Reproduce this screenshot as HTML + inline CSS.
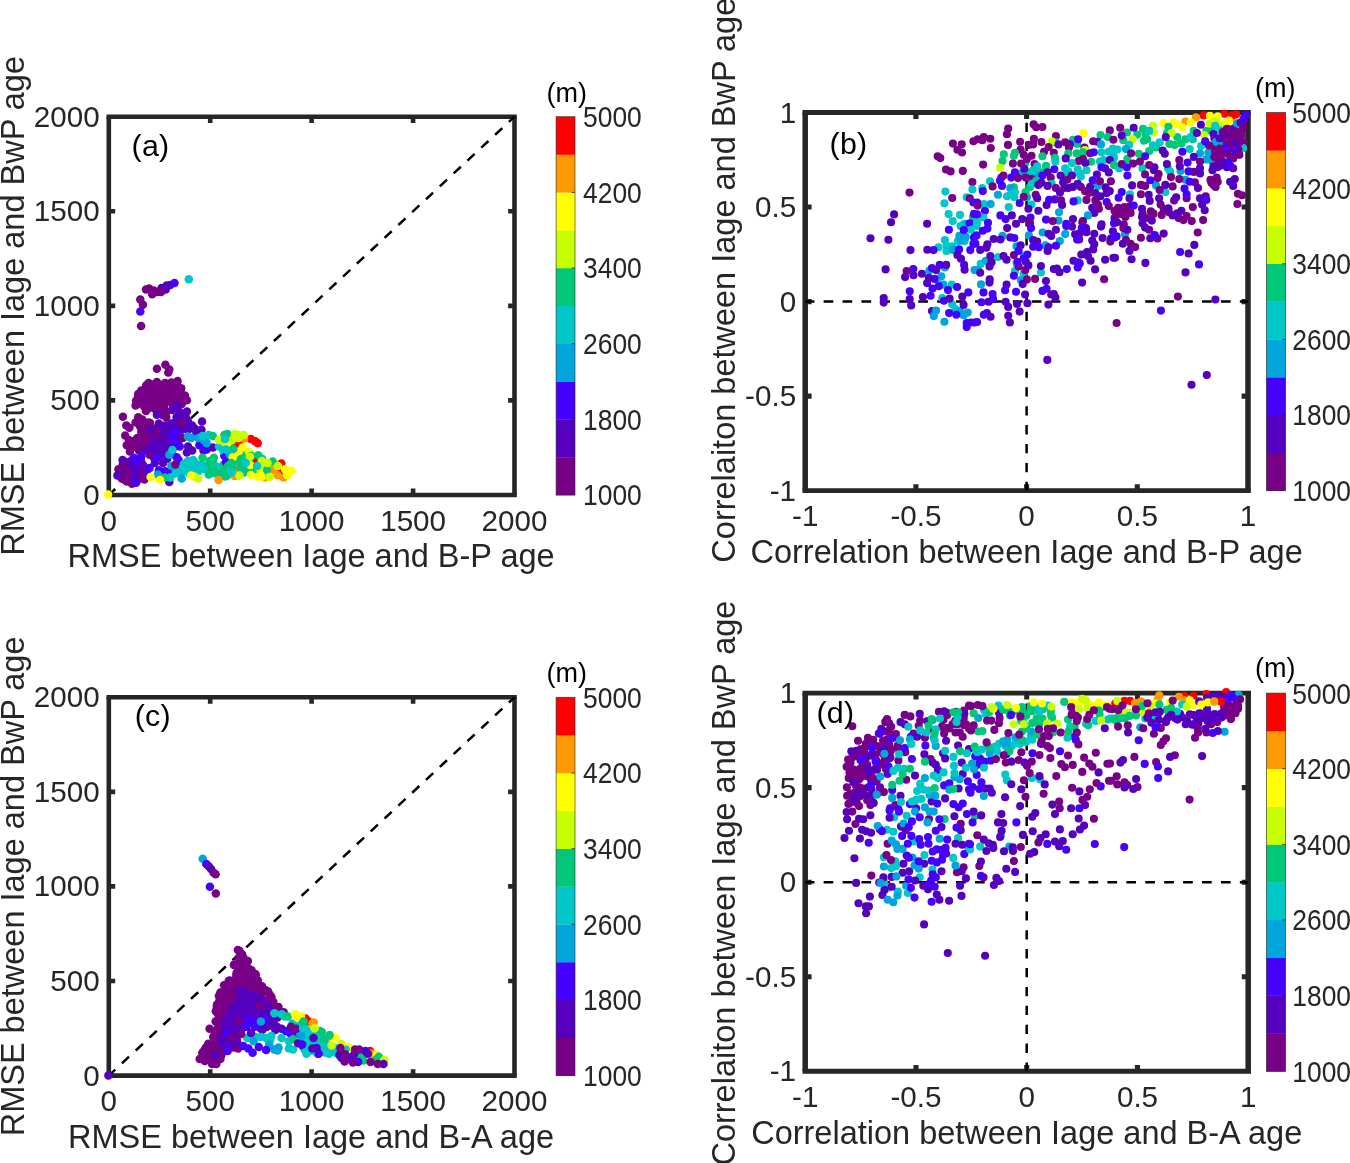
<!DOCTYPE html>
<html lang="en"><head><meta charset="utf-8"><title>Iage RMSE and correlation scatter plots</title>
<style>html,body{margin:0;padding:0;background:#fff}body{width:1350px;height:1163px;overflow:hidden}svg{display:block}text{font-family:"Liberation Sans",Arial,Helvetica,sans-serif;fill:#262626}.t{font-size:29.6px}.l{font-size:32.5px}.g{font-size:30.4px;fill:#000;letter-spacing:0.3px}.m{font-size:27px;fill:#000}.c0{fill:#780087}.c1{fill:#5500BE}.c2{fill:#4600FF}.c3{fill:#00A5DC}.c4{fill:#00C8C8}.c5{fill:#00C878}.c6{fill:#C8FF00}.c7{fill:#FFFF00}.c8{fill:#FF9900}.c9{fill:#FF0000}</style></head><body>
<svg width="1350" height="1163" viewBox="0 0 1350 1163">
<rect width="1350" height="1163" fill="#fff"/>
<g id="panel-a">
<path d="M106.5 116.7H516.8M106.5 495H516.8" stroke="#262626" stroke-width="4.6" fill="none"/>
<path d="M108.8 116.7V495M514.5 116.7V495" stroke="#262626" stroke-width="4.6" fill="none"/>
<path d="M210.2 495v-6.4M210.2 116.7v6.4M108.8 211.3h6.4M514.5 211.3h-6.4M311.6 495v-6.4M311.6 116.7v6.4M108.8 305.9h6.4M514.5 305.9h-6.4M413.1 495v-6.4M413.1 116.7v6.4M108.8 400.4h6.4M514.5 400.4h-6.4" stroke="#262626" stroke-width="4.6" fill="none"/>
<line x1="108.8" y1="495" x2="514.5" y2="116.7" stroke="#000" stroke-width="2.5" stroke-dasharray="9.8 9.1" stroke-dashoffset="1.0"/>
<g class="dots"><circle class="c4" cx="188.8" cy="279.2" r="4.25"/><circle class="c2" cx="174.5" cy="283" r="4.25"/><circle class="c2" cx="170.3" cy="284.9" r="4.25"/><circle class="c2" cx="140.3" cy="311.5" r="4.25"/><circle class="c1" cx="166.7" cy="285.4" r="4.25"/><circle class="c1" cx="161.5" cy="288" r="4.25"/><circle class="c1" cx="165.7" cy="289.6" r="4.25"/><circle class="c0" cx="146" cy="289.6" r="4.25"/><circle class="c0" cx="149.1" cy="288.5" r="4.25"/><circle class="c0" cx="153.7" cy="290.6" r="4.25"/><circle class="c0" cx="152.2" cy="294.2" r="4.25"/><circle class="c0" cx="156.9" cy="292.1" r="4.25"/><circle class="c0" cx="161" cy="292.1" r="4.25"/><circle class="c0" cx="140.3" cy="299.6" r="4.25"/><circle class="c0" cx="142.9" cy="304.8" r="4.25"/><circle class="c0" cx="141.1" cy="326.1" r="4.25"/><circle class="c0" cx="156.9" cy="368.7" r="4.25"/><circle class="c0" cx="165.4" cy="364.7" r="4.25"/><circle class="c0" cx="169.3" cy="369.4" r="4.25"/><circle class="c0" cx="168.3" cy="372.5" r="4.25"/><circle class="c0" cx="146.1" cy="385.5" r="4.25"/><circle class="c0" cx="151.1" cy="384.6" r="4.25"/><circle class="c0" cx="155.6" cy="386.4" r="4.25"/><circle class="c0" cx="161.4" cy="385.1" r="4.25"/><circle class="c0" cx="165.2" cy="385" r="4.25"/><circle class="c0" cx="170.4" cy="383.9" r="4.25"/><circle class="c0" cx="177" cy="384.6" r="4.25"/><circle class="c0" cx="147.1" cy="388.8" r="4.25"/><circle class="c0" cx="154.7" cy="388.5" r="4.25"/><circle class="c0" cx="157.9" cy="390.9" r="4.25"/><circle class="c0" cx="163" cy="390.5" r="4.25"/><circle class="c0" cx="167.9" cy="389.1" r="4.25"/><circle class="c0" cx="174" cy="389" r="4.25"/><circle class="c0" cx="180.7" cy="389.4" r="4.25"/><circle class="c0" cx="141.8" cy="393.4" r="4.25"/><circle class="c0" cx="144.8" cy="393" r="4.25"/><circle class="c0" cx="150.9" cy="392.8" r="4.25"/><circle class="c0" cx="156.4" cy="395" r="4.25"/><circle class="c0" cx="161.5" cy="395" r="4.25"/><circle class="c0" cx="167.2" cy="394.4" r="4.25"/><circle class="c0" cx="171.4" cy="394.6" r="4.25"/><circle class="c0" cx="178" cy="392.9" r="4.25"/><circle class="c0" cx="138" cy="397.1" r="4.25"/><circle class="c0" cx="143" cy="397.1" r="4.25"/><circle class="c0" cx="147.9" cy="397" r="4.25"/><circle class="c0" cx="153.8" cy="397.2" r="4.25"/><circle class="c0" cx="160.3" cy="399.1" r="4.25"/><circle class="c0" cx="163.5" cy="399.9" r="4.25"/><circle class="c0" cx="167.9" cy="397.7" r="4.25"/><circle class="c0" cx="173.2" cy="398.3" r="4.25"/><circle class="c0" cx="178.7" cy="398.2" r="4.25"/><circle class="c0" cx="185.5" cy="399.7" r="4.25"/><circle class="c0" cx="140.8" cy="403.6" r="4.25"/><circle class="c0" cx="145" cy="403.2" r="4.25"/><circle class="c0" cx="150.5" cy="403.9" r="4.25"/><circle class="c0" cx="156.4" cy="403" r="4.25"/><circle class="c0" cx="162.4" cy="403.1" r="4.25"/><circle class="c0" cx="166.2" cy="401.8" r="4.25"/><circle class="c0" cx="172.3" cy="404.3" r="4.25"/><circle class="c0" cx="178.1" cy="401.6" r="4.25"/><circle class="c0" cx="181.7" cy="401.4" r="4.25"/><circle class="c0" cx="144.1" cy="406.5" r="4.25"/><circle class="c0" cx="149.6" cy="407.1" r="4.25"/><circle class="c0" cx="154.9" cy="408.9" r="4.25"/><circle class="c0" cx="159" cy="408.8" r="4.25"/><circle class="c0" cx="163.9" cy="408" r="4.25"/><circle class="c0" cx="161.3" cy="412.5" r="4.25"/><circle class="c0" cx="166.6" cy="411.6" r="4.25"/><circle class="c0" cx="140.5" cy="420.6" r="4.25"/><circle class="c0" cx="140.6" cy="425.6" r="4.25"/><circle class="c0" cx="143.3" cy="424.3" r="4.25"/><circle class="c0" cx="150" cy="423.1" r="4.25"/><circle class="c0" cx="142.5" cy="428.9" r="4.25"/><circle class="c0" cx="147.1" cy="429" r="4.25"/><circle class="c0" cx="152" cy="428.3" r="4.25"/><circle class="c0" cx="145" cy="432.8" r="4.25"/><circle class="c0" cx="149.6" cy="431.8" r="4.25"/><circle class="c0" cx="154.6" cy="431.9" r="4.25"/><circle class="c0" cx="137.1" cy="438.3" r="4.25"/><circle class="c0" cx="142.7" cy="438.8" r="4.25"/><circle class="c0" cx="146.6" cy="437.3" r="4.25"/><circle class="c0" cx="151.2" cy="438.1" r="4.25"/><circle class="c0" cx="132.9" cy="443.5" r="4.25"/><circle class="c0" cx="139.7" cy="440.8" r="4.25"/><circle class="c0" cx="145.7" cy="442.1" r="4.25"/><circle class="c0" cx="149.9" cy="441.8" r="4.25"/><circle class="c0" cx="130.9" cy="448.2" r="4.25"/><circle class="c0" cx="135.4" cy="447" r="4.25"/><circle class="c0" cx="143" cy="446.8" r="4.25"/><circle class="c0" cx="147.3" cy="446.8" r="4.25"/><circle class="c0" cx="138.9" cy="450.2" r="4.25"/><circle class="c1" cx="177.8" cy="417.1" r="4.25"/><circle class="c1" cx="183.1" cy="416.8" r="4.25"/><circle class="c1" cx="185.9" cy="417.8" r="4.25"/><circle class="c1" cx="175.4" cy="422.3" r="4.25"/><circle class="c1" cx="178.7" cy="421.1" r="4.25"/><circle class="c1" cx="184.1" cy="420.8" r="4.25"/><circle class="c1" cx="167.2" cy="425.5" r="4.25"/><circle class="c1" cx="172.3" cy="426" r="4.25"/><circle class="c1" cx="175.9" cy="426.3" r="4.25"/><circle class="c1" cx="182.7" cy="425.4" r="4.25"/><circle class="c1" cx="185.8" cy="425.1" r="4.25"/><circle class="c1" cx="158.3" cy="431.1" r="4.25"/><circle class="c1" cx="162.6" cy="430.8" r="4.25"/><circle class="c1" cx="167.9" cy="429.2" r="4.25"/><circle class="c1" cx="172.6" cy="430.9" r="4.25"/><circle class="c1" cx="180.1" cy="431" r="4.25"/><circle class="c1" cx="184.5" cy="428.8" r="4.25"/><circle class="c1" cx="189.2" cy="429.1" r="4.25"/><circle class="c1" cx="194.9" cy="428.8" r="4.25"/><circle class="c1" cx="161.2" cy="432.9" r="4.25"/><circle class="c1" cx="165.8" cy="434.2" r="4.25"/><circle class="c1" cx="171.9" cy="432.9" r="4.25"/><circle class="c1" cx="176.3" cy="434.2" r="4.25"/><circle class="c1" cx="154.7" cy="439.1" r="4.25"/><circle class="c1" cx="159.2" cy="438.6" r="4.25"/><circle class="c1" cx="162.7" cy="438.7" r="4.25"/><circle class="c1" cx="167.6" cy="438.6" r="4.25"/><circle class="c1" cx="175.1" cy="439.3" r="4.25"/><circle class="c1" cx="154.4" cy="444.8" r="4.25"/><circle class="c1" cx="159.5" cy="444.2" r="4.25"/><circle class="c1" cx="167.4" cy="442.6" r="4.25"/><circle class="c1" cx="171.8" cy="443.6" r="4.25"/><circle class="c1" cx="177.8" cy="442.6" r="4.25"/><circle class="c1" cx="153.7" cy="448.3" r="4.25"/><circle class="c1" cx="158.7" cy="449.2" r="4.25"/><circle class="c1" cx="163.4" cy="447.7" r="4.25"/><circle class="c1" cx="168.3" cy="447.2" r="4.25"/><circle class="c1" cx="172.7" cy="449.1" r="4.25"/><circle class="c1" cx="150.1" cy="452.7" r="4.25"/><circle class="c1" cx="157.3" cy="451.4" r="4.25"/><circle class="c1" cx="161.1" cy="452.1" r="4.25"/><circle class="c1" cx="165.6" cy="452.4" r="4.25"/><circle class="c1" cx="171.8" cy="453.8" r="4.25"/><circle class="c1" cx="153.7" cy="457.5" r="4.25"/><circle class="c1" cx="157.4" cy="457.1" r="4.25"/><circle class="c0" cx="140.8" cy="461.7" r="4.25"/><circle class="c0" cx="127.7" cy="465.6" r="4.25"/><circle class="c0" cx="130.7" cy="465.3" r="4.25"/><circle class="c0" cx="135.2" cy="465.2" r="4.25"/><circle class="c0" cx="142.7" cy="466.4" r="4.25"/><circle class="c0" cx="124.7" cy="471.7" r="4.25"/><circle class="c0" cx="129.3" cy="470.8" r="4.25"/><circle class="c0" cx="135" cy="469.6" r="4.25"/><circle class="c0" cx="140.5" cy="471.5" r="4.25"/><circle class="c0" cx="122.5" cy="475.1" r="4.25"/><circle class="c0" cx="125.7" cy="473.8" r="4.25"/><circle class="c0" cx="132.8" cy="474.1" r="4.25"/><circle class="c0" cx="136.3" cy="474.3" r="4.25"/><circle class="c0" cx="141.6" cy="474.4" r="4.25"/><circle class="c0" cx="128.4" cy="479.2" r="4.25"/><circle class="c0" cx="135.4" cy="478.2" r="4.25"/><circle class="c0" cx="138.8" cy="479.1" r="4.25"/><circle class="c1" cx="130.5" cy="462.7" r="4.25"/><circle class="c1" cx="137.8" cy="460.8" r="4.25"/><circle class="c1" cx="141.2" cy="461.5" r="4.25"/><circle class="c1" cx="124.5" cy="467.2" r="4.25"/><circle class="c1" cx="127.6" cy="467.3" r="4.25"/><circle class="c1" cx="135.5" cy="466.8" r="4.25"/><circle class="c1" cx="138" cy="464.6" r="4.25"/><circle class="c1" cx="143.3" cy="465.6" r="4.25"/><circle class="c1" cx="124.8" cy="471.1" r="4.25"/><circle class="c1" cx="130.5" cy="469.6" r="4.25"/><circle class="c1" cx="135.9" cy="471.5" r="4.25"/><circle class="c1" cx="141.6" cy="471.7" r="4.25"/><circle class="c1" cx="129.6" cy="474.8" r="4.25"/><circle class="c1" cx="135.5" cy="474.8" r="4.25"/><circle class="c1" cx="139.9" cy="473.9" r="4.25"/><circle class="c1" cx="136.5" cy="478" r="4.25"/><circle class="c3" cx="198.5" cy="438.1" r="4.25"/><circle class="c3" cx="204" cy="437.8" r="4.25"/><circle class="c3" cx="205.9" cy="441.2" r="4.25"/><circle class="c2" cx="205.2" cy="447.5" r="4.25"/><circle class="c2" cx="208.3" cy="447.4" r="4.25"/><circle class="c4" cx="190.3" cy="464" r="4.25"/><circle class="c4" cx="196.7" cy="465.1" r="4.25"/><circle class="c4" cx="201.7" cy="464.8" r="4.25"/><circle class="c4" cx="177.4" cy="470.3" r="4.25"/><circle class="c4" cx="183.3" cy="468.9" r="4.25"/><circle class="c4" cx="187.5" cy="468.9" r="4.25"/><circle class="c4" cx="194.5" cy="469.1" r="4.25"/><circle class="c4" cx="197.8" cy="470.3" r="4.25"/><circle class="c4" cx="203.7" cy="468.8" r="4.25"/><circle class="c4" cx="174.6" cy="473.2" r="4.25"/><circle class="c4" cx="181.7" cy="472.2" r="4.25"/><circle class="c5" cx="208.4" cy="465.1" r="4.25"/><circle class="c5" cx="213.5" cy="463.7" r="4.25"/><circle class="c5" cx="231.1" cy="463.7" r="4.25"/><circle class="c5" cx="235.1" cy="462.8" r="4.25"/><circle class="c5" cx="240.7" cy="463.7" r="4.25"/><circle class="c5" cx="208.5" cy="467.8" r="4.25"/><circle class="c5" cx="211.1" cy="469.4" r="4.25"/><circle class="c5" cx="218.5" cy="468.8" r="4.25"/><circle class="c5" cx="221.3" cy="468.4" r="4.25"/><circle class="c5" cx="227.5" cy="467.3" r="4.25"/><circle class="c5" cx="234.3" cy="468.9" r="4.25"/><circle class="c5" cx="239.2" cy="467.2" r="4.25"/><circle class="c5" cx="209.1" cy="472.7" r="4.25"/><circle class="c5" cx="213.8" cy="472.8" r="4.25"/><circle class="c5" cx="219.5" cy="472.1" r="4.25"/><circle class="c5" cx="225.1" cy="471.8" r="4.25"/><circle class="c5" cx="231.3" cy="472.8" r="4.25"/><circle class="c5" cx="235.5" cy="471.5" r="4.25"/><circle class="c5" cx="240.3" cy="471.5" r="4.25"/><circle class="c6" cx="227.6" cy="437.5" r="4.25"/><circle class="c0" cx="148.6" cy="383.1" r="4.25"/><circle class="c0" cx="156.9" cy="382.1" r="4.25"/><circle class="c0" cx="165.1" cy="383.1" r="4.25"/><circle class="c0" cx="171.4" cy="382.6" r="4.25"/><circle class="c0" cx="177.6" cy="381" r="4.25"/><circle class="c0" cx="141.3" cy="390.4" r="4.25"/><circle class="c0" cx="181.2" cy="388.3" r="4.25"/><circle class="c0" cx="154.8" cy="389.3" r="4.25"/><circle class="c0" cx="169.3" cy="389.3" r="4.25"/><circle class="c0" cx="162" cy="392.4" r="4.25"/><circle class="c0" cx="138.2" cy="394" r="4.25"/><circle class="c0" cx="146.5" cy="395.6" r="4.25"/><circle class="c0" cx="154.8" cy="395.6" r="4.25"/><circle class="c0" cx="163.1" cy="396.6" r="4.25"/><circle class="c0" cx="171.4" cy="394.5" r="4.25"/><circle class="c0" cx="184.9" cy="395.6" r="4.25"/><circle class="c0" cx="177.6" cy="397.6" r="4.25"/><circle class="c0" cx="136.1" cy="400.7" r="4.25"/><circle class="c0" cx="144.4" cy="401.8" r="4.25"/><circle class="c0" cx="151.7" cy="402.8" r="4.25"/><circle class="c0" cx="166.2" cy="401.8" r="4.25"/><circle class="c0" cx="173.4" cy="400.7" r="4.25"/><circle class="c0" cx="186.9" cy="400.2" r="4.25"/><circle class="c0" cx="181.7" cy="403.9" r="4.25"/><circle class="c0" cx="135.6" cy="405.4" r="4.25"/><circle class="c0" cx="148.6" cy="408" r="4.25"/><circle class="c0" cx="156.9" cy="407" r="4.25"/><circle class="c0" cx="164.1" cy="408" r="4.25"/><circle class="c0" cx="146" cy="411.1" r="4.25"/><circle class="c0" cx="158.9" cy="413.2" r="4.25"/><circle class="c0" cx="163.1" cy="415.3" r="4.25"/><circle class="c0" cx="166.2" cy="417.3" r="4.25"/><circle class="c0" cx="122.9" cy="416.8" r="4.25"/><circle class="c0" cx="126.3" cy="425.6" r="4.25"/><circle class="c0" cx="129.4" cy="427.7" r="4.25"/><circle class="c0" cx="125.2" cy="435.5" r="4.25"/><circle class="c0" cx="138.2" cy="417.3" r="4.25"/><circle class="c0" cx="142.3" cy="419.4" r="4.25"/><circle class="c0" cx="135.6" cy="422.5" r="4.25"/><circle class="c0" cx="148.6" cy="422.5" r="4.25"/><circle class="c0" cx="140.3" cy="426.7" r="4.25"/><circle class="c0" cx="146.5" cy="428.7" r="4.25"/><circle class="c0" cx="141.3" cy="431.9" r="4.25"/><circle class="c0" cx="150.6" cy="429.8" r="4.25"/><circle class="c0" cx="154.8" cy="428.7" r="4.25"/><circle class="c0" cx="128.9" cy="440.1" r="4.25"/><circle class="c0" cx="133" cy="441.2" r="4.25"/><circle class="c0" cx="126.8" cy="445.3" r="4.25"/><circle class="c0" cx="138.2" cy="438.1" r="4.25"/><circle class="c0" cx="145.4" cy="438.1" r="4.25"/><circle class="c0" cx="146.5" cy="441.2" r="4.25"/><circle class="c0" cx="136.1" cy="446.4" r="4.25"/><circle class="c0" cx="141.3" cy="447.4" r="4.25"/><circle class="c0" cx="129.9" cy="451.6" r="4.25"/><circle class="c0" cx="157.9" cy="437" r="4.25"/><circle class="c0" cx="182.8" cy="438.1" r="4.25"/><circle class="c0" cx="118.5" cy="469.2" r="4.25"/><circle class="c0" cx="122.6" cy="465" r="4.25"/><circle class="c0" cx="125.7" cy="461.9" r="4.25"/><circle class="c0" cx="121.6" cy="478.5" r="4.25"/><circle class="c0" cx="126.8" cy="481.6" r="4.25"/><circle class="c0" cx="132" cy="483.7" r="4.25"/><circle class="c0" cx="140.3" cy="463" r="4.25"/><circle class="c0" cx="141.3" cy="471.3" r="4.25"/><circle class="c0" cx="139.2" cy="477.5" r="4.25"/><circle class="c0" cx="144.4" cy="479.6" r="4.25"/><circle class="c0" cx="127.8" cy="473.3" r="4.25"/><circle class="c0" cx="149.6" cy="454.7" r="4.25"/><circle class="c1" cx="177.1" cy="405.4" r="4.25"/><circle class="c1" cx="172.4" cy="410.1" r="4.25"/><circle class="c1" cx="179.7" cy="412.1" r="4.25"/><circle class="c1" cx="186.9" cy="411.6" r="4.25"/><circle class="c1" cx="156.9" cy="414.7" r="4.25"/><circle class="c1" cx="176.6" cy="417.3" r="4.25"/><circle class="c1" cx="181.7" cy="419.4" r="4.25"/><circle class="c1" cx="188" cy="421.5" r="4.25"/><circle class="c1" cx="202" cy="421.5" r="4.25"/><circle class="c1" cx="192.1" cy="425.6" r="4.25"/><circle class="c1" cx="201.4" cy="429.8" r="4.25"/><circle class="c1" cx="196.3" cy="431.9" r="4.25"/><circle class="c1" cx="158.9" cy="423.6" r="4.25"/><circle class="c1" cx="165.1" cy="425.6" r="4.25"/><circle class="c1" cx="171.4" cy="423.6" r="4.25"/><circle class="c1" cx="177.6" cy="426.7" r="4.25"/><circle class="c1" cx="184.9" cy="428.7" r="4.25"/><circle class="c1" cx="150.6" cy="429.3" r="4.25"/><circle class="c1" cx="163.1" cy="431.9" r="4.25"/><circle class="c1" cx="169.3" cy="432.9" r="4.25"/><circle class="c1" cx="176.6" cy="436" r="4.25"/><circle class="c1" cx="165.1" cy="439.1" r="4.25"/><circle class="c1" cx="171.4" cy="441.2" r="4.25"/><circle class="c1" cx="156.9" cy="442.2" r="4.25"/><circle class="c1" cx="151.7" cy="446.4" r="4.25"/><circle class="c1" cx="161" cy="447.4" r="4.25"/><circle class="c1" cx="167.2" cy="448.4" r="4.25"/><circle class="c1" cx="146.5" cy="450.5" r="4.25"/><circle class="c1" cx="154.8" cy="452.6" r="4.25"/><circle class="c1" cx="162" cy="454.7" r="4.25"/><circle class="c1" cx="188" cy="446.4" r="4.25"/><circle class="c1" cx="192.1" cy="450.5" r="4.25"/><circle class="c1" cx="186.9" cy="452.6" r="4.25"/><circle class="c1" cx="203.5" cy="450.5" r="4.25"/><circle class="c1" cx="212.9" cy="447.4" r="4.25"/><circle class="c1" cx="122.6" cy="459.9" r="4.25"/><circle class="c1" cx="130.9" cy="466.1" r="4.25"/><circle class="c1" cx="135.1" cy="478.5" r="4.25"/><circle class="c1" cx="117.4" cy="475.4" r="4.25"/><circle class="c1" cx="146.5" cy="472.3" r="4.25"/><circle class="c1" cx="132" cy="459.9" r="4.25"/><circle class="c1" cx="137.1" cy="470.2" r="4.25"/><circle class="c1" cx="167.2" cy="458.8" r="4.25"/><circle class="c1" cx="163.1" cy="463" r="4.25"/><circle class="c1" cx="154.8" cy="463" r="4.25"/><circle class="c1" cx="169.3" cy="482.1" r="4.25"/><circle class="c2" cx="175.5" cy="431.9" r="4.25"/><circle class="c2" cx="172.4" cy="435" r="4.25"/><circle class="c2" cx="175.5" cy="442.7" r="4.25"/><circle class="c2" cx="179.7" cy="446.4" r="4.25"/><circle class="c2" cx="199.4" cy="445.3" r="4.25"/><circle class="c2" cx="206.6" cy="449.5" r="4.25"/><circle class="c2" cx="176.6" cy="457.3" r="4.25"/><circle class="c2" cx="178.6" cy="459.9" r="4.25"/><circle class="c2" cx="156.9" cy="457.8" r="4.25"/><circle class="c2" cx="141.3" cy="456.2" r="4.25"/><circle class="c2" cx="134" cy="457.8" r="4.25"/><circle class="c2" cx="138.2" cy="461.9" r="4.25"/><circle class="c2" cx="149.6" cy="468.1" r="4.25"/><circle class="c2" cx="158.9" cy="470.2" r="4.25"/><circle class="c2" cx="165.1" cy="471.3" r="4.25"/><circle class="c2" cx="170.3" cy="471.3" r="4.25"/><circle class="c2" cx="136.1" cy="482.7" r="4.25"/><circle class="c2" cx="224.3" cy="455.7" r="4.25"/><circle class="c2" cx="227.4" cy="461.9" r="4.25"/><circle class="c3" cx="188" cy="436.5" r="4.25"/><circle class="c3" cx="191.1" cy="438.1" r="4.25"/><circle class="c3" cx="169.3" cy="454.7" r="4.25"/><circle class="c3" cx="206.6" cy="443.3" r="4.25"/><circle class="c3" cx="203.5" cy="440.1" r="4.25"/><circle class="c3" cx="198.3" cy="438.1" r="4.25"/><circle class="c3" cx="181.7" cy="478.5" r="4.25"/><circle class="c3" cx="157.9" cy="474.4" r="4.25"/><circle class="c3" cx="194.2" cy="461.9" r="4.25"/><circle class="c3" cx="171.4" cy="466.1" r="4.25"/><circle class="c4" cx="172.4" cy="450" r="4.25"/><circle class="c4" cx="208.7" cy="435" r="4.25"/><circle class="c4" cx="202.5" cy="436" r="4.25"/><circle class="c4" cx="219.1" cy="446.4" r="4.25"/><circle class="c4" cx="223.2" cy="450.5" r="4.25"/><circle class="c4" cx="188" cy="460.9" r="4.25"/><circle class="c4" cx="193.1" cy="459.9" r="4.25"/><circle class="c4" cx="183.8" cy="464" r="4.25"/><circle class="c4" cx="188" cy="468.1" r="4.25"/><circle class="c4" cx="193.1" cy="467.1" r="4.25"/><circle class="c4" cx="198.3" cy="465" r="4.25"/><circle class="c4" cx="203.5" cy="468.1" r="4.25"/><circle class="c4" cx="198.3" cy="471.3" r="4.25"/><circle class="c4" cx="189" cy="473.3" r="4.25"/><circle class="c4" cx="217" cy="467.1" r="4.25"/><circle class="c4" cx="175.5" cy="473.3" r="4.25"/><circle class="c4" cx="170.3" cy="477.5" r="4.25"/><circle class="c4" cx="231.5" cy="470.2" r="4.25"/><circle class="c5" cx="212.9" cy="436" r="4.25"/><circle class="c5" cx="224.3" cy="435" r="4.25"/><circle class="c5" cx="227.4" cy="433.9" r="4.25"/><circle class="c5" cx="233.1" cy="448.4" r="4.25"/><circle class="c5" cx="213.9" cy="457.8" r="4.25"/><circle class="c5" cx="209.7" cy="460.9" r="4.25"/><circle class="c5" cx="202.5" cy="457.8" r="4.25"/><circle class="c5" cx="241.9" cy="458.8" r="4.25"/><circle class="c5" cx="240.9" cy="469.2" r="4.25"/><circle class="c5" cx="242.9" cy="472.3" r="4.25"/><circle class="c5" cx="223.2" cy="465" r="4.25"/><circle class="c5" cx="227.4" cy="470.2" r="4.25"/><circle class="c5" cx="208.7" cy="474.4" r="4.25"/><circle class="c5" cx="214.9" cy="473.3" r="4.25"/><circle class="c5" cx="220.1" cy="474.4" r="4.25"/><circle class="c5" cx="225.3" cy="476.4" r="4.25"/><circle class="c5" cx="212.9" cy="469.2" r="4.25"/><circle class="c5" cx="244" cy="456.7" r="4.25"/><circle class="c5" cx="165.1" cy="477.5" r="4.25"/><circle class="c6" cx="219.1" cy="440.1" r="4.25"/><circle class="c6" cx="233.6" cy="437" r="4.25"/><circle class="c6" cx="238.8" cy="435" r="4.25"/><circle class="c6" cx="224.3" cy="442.2" r="4.25"/><circle class="c6" cx="198.3" cy="478.5" r="4.25"/><circle class="c6" cx="238.8" cy="475.4" r="4.25"/><circle class="c6" cx="194.2" cy="476.4" r="4.25"/><circle class="c7" cx="150.6" cy="477" r="4.25"/><circle class="c7" cx="160" cy="480.1" r="4.25"/><circle class="c7" cx="232.6" cy="457.3" r="4.25"/><circle class="c7" cx="241.9" cy="446.4" r="4.25"/><circle class="c7" cx="240.9" cy="450.5" r="4.25"/><circle class="c7" cx="191.1" cy="475.4" r="4.25"/><circle class="c7" cx="108.1" cy="494.6" r="4.25"/><circle class="c8" cx="218.6" cy="480.1" r="4.25"/><circle class="c8" cx="244" cy="438.1" r="4.25"/><circle class="c8" cx="234.6" cy="475.4" r="4.25"/><circle class="c9" cx="238.8" cy="443.3" r="4.25"/><circle class="c0" cx="175.5" cy="464.5" r="4.25"/><circle class="c0" cx="181.7" cy="422.5" r="4.25"/><circle class="c7" cx="244.2" cy="455.7" r="4.25"/><circle class="c7" cx="248.3" cy="454.6" r="4.25"/><circle class="c7" cx="251.8" cy="456.3" r="4.25"/><circle class="c7" cx="246.3" cy="458.5" r="4.25"/><circle class="c7" cx="251" cy="460.9" r="4.25"/><circle class="c7" cx="247.9" cy="465.1" r="4.25"/><circle class="c7" cx="253.9" cy="463.9" r="4.25"/><circle class="c7" cx="257.9" cy="465.4" r="4.25"/><circle class="c7" cx="251" cy="467.8" r="4.25"/><circle class="c7" cx="256.2" cy="470.3" r="4.25"/><circle class="c7" cx="262" cy="470.2" r="4.25"/><circle class="c7" cx="267" cy="468.3" r="4.25"/><circle class="c7" cx="271.4" cy="468.9" r="4.25"/><circle class="c7" cx="275.1" cy="470.1" r="4.25"/><circle class="c7" cx="259.6" cy="473.8" r="4.25"/><circle class="c7" cx="263.7" cy="472.8" r="4.25"/><circle class="c7" cx="268.6" cy="472.1" r="4.25"/><circle class="c5" cx="230.3" cy="441.7" r="4.25"/><circle class="c5" cx="231.3" cy="445" r="4.25"/><circle class="c5" cx="231.7" cy="450" r="4.25"/><circle class="c5" cx="233.4" cy="453.5" r="4.25"/><circle class="c5" cx="237" cy="455.2" r="4.25"/><circle class="c5" cx="244" cy="454.4" r="4.25"/><circle class="c5" cx="249.4" cy="454.3" r="4.25"/><circle class="c5" cx="230.7" cy="458.3" r="4.25"/><circle class="c5" cx="236.2" cy="460.1" r="4.25"/><circle class="c5" cx="239.6" cy="458.1" r="4.25"/><circle class="c5" cx="246.8" cy="458" r="4.25"/><circle class="c5" cx="249.9" cy="457.7" r="4.25"/><circle class="c5" cx="256.1" cy="457.4" r="4.25"/><circle class="c5" cx="262" cy="458.8" r="4.25"/><circle class="c5" cx="232.3" cy="463.3" r="4.25"/><circle class="c5" cx="237.2" cy="463.4" r="4.25"/><circle class="c5" cx="242.7" cy="461.9" r="4.25"/><circle class="c5" cx="249.3" cy="464.4" r="4.25"/><circle class="c5" cx="253.6" cy="462" r="4.25"/><circle class="c5" cx="257.2" cy="464.8" r="4.25"/><circle class="c5" cx="264.8" cy="463.8" r="4.25"/><circle class="c5" cx="268.1" cy="462.9" r="4.25"/><circle class="c5" cx="230.2" cy="467.5" r="4.25"/><circle class="c5" cx="234.7" cy="468.6" r="4.25"/><circle class="c5" cx="240.9" cy="468.7" r="4.25"/><circle class="c5" cx="244.6" cy="466.7" r="4.25"/><circle class="c5" cx="250.9" cy="467.9" r="4.25"/><circle class="c5" cx="255.8" cy="467.3" r="4.25"/><circle class="c5" cx="260.3" cy="466.3" r="4.25"/><circle class="c5" cx="232.1" cy="472.5" r="4.25"/><circle class="c5" cx="237" cy="471.6" r="4.25"/><circle class="c5" cx="244.2" cy="472.3" r="4.25"/><circle class="c5" cx="253.9" cy="471" r="4.25"/><circle class="c6" cx="237.3" cy="437.5" r="4.25"/><circle class="c2" cx="226.6" cy="454.7" r="4.25"/><circle class="c2" cx="226" cy="461.9" r="4.25"/><circle class="c3" cx="229.7" cy="454.7" r="4.25"/><circle class="c9" cx="250.9" cy="439.1" r="4.25"/><circle class="c9" cx="255.1" cy="441.2" r="4.25"/><circle class="c9" cx="257.7" cy="443.3" r="4.25"/><circle class="c9" cx="238.5" cy="443.3" r="4.25"/><circle class="c9" cx="257.1" cy="461.4" r="4.25"/><circle class="c9" cx="281.3" cy="463.5" r="4.25"/><circle class="c9" cx="280" cy="472.3" r="4.25"/><circle class="c9" cx="282" cy="475.4" r="4.25"/><circle class="c8" cx="244" cy="438.4" r="4.25"/><circle class="c8" cx="272.7" cy="470.2" r="4.25"/><circle class="c8" cx="277.4" cy="474.9" r="4.25"/><circle class="c8" cx="264.9" cy="477.5" r="4.25"/><circle class="c8" cx="283.6" cy="477.5" r="4.25"/><circle class="c8" cx="234.9" cy="475.9" r="4.25"/><circle class="c8" cx="236.4" cy="469.7" r="4.25"/><circle class="c7" cx="242.6" cy="447.4" r="4.25"/><circle class="c7" cx="248.9" cy="451.6" r="4.25"/><circle class="c7" cx="232.8" cy="457.3" r="4.25"/><circle class="c7" cx="250.4" cy="465" r="4.25"/><circle class="c7" cx="250.9" cy="474.9" r="4.25"/><circle class="c7" cx="258.2" cy="476.4" r="4.25"/><circle class="c7" cx="261.3" cy="477" r="4.25"/><circle class="c7" cx="285.1" cy="469.2" r="4.25"/><circle class="c7" cx="291.4" cy="470.7" r="4.25"/><circle class="c7" cx="287.2" cy="474.9" r="4.25"/><circle class="c7" cx="263.4" cy="466.1" r="4.25"/><circle class="c7" cx="227.1" cy="444.3" r="4.25"/><circle class="c7" cx="238.5" cy="452.6" r="4.25"/><circle class="c5" cx="227.1" cy="435" r="4.25"/><circle class="c5" cx="233.3" cy="449" r="4.25"/><circle class="c5" cx="228.1" cy="466.1" r="4.25"/><circle class="c5" cx="232.3" cy="468.7" r="4.25"/><circle class="c5" cx="227.1" cy="475.4" r="4.25"/><circle class="c5" cx="241.6" cy="458.8" r="4.25"/><circle class="c5" cx="240.6" cy="468.1" r="4.25"/><circle class="c5" cx="242.6" cy="472.8" r="4.25"/><circle class="c5" cx="258.2" cy="455.2" r="4.25"/><circle class="c5" cx="272.7" cy="461.4" r="4.25"/><circle class="c5" cx="267" cy="469.7" r="4.25"/><circle class="c5" cx="250.9" cy="455.7" r="4.25"/><circle class="c5" cx="231.2" cy="463" r="4.25"/><circle class="c6" cx="234.9" cy="433.9" r="4.25"/><circle class="c6" cx="243.7" cy="435" r="4.25"/><circle class="c6" cx="232.3" cy="440.1" r="4.25"/><circle class="c6" cx="238.5" cy="438.1" r="4.25"/><circle class="c6" cx="249.9" cy="456.7" r="4.25"/><circle class="c6" cx="267.5" cy="463" r="4.25"/><circle class="c6" cx="277.9" cy="466.1" r="4.25"/><circle class="c6" cx="269.6" cy="477" r="4.25"/><circle class="c6" cx="239.5" cy="475.4" r="4.25"/><circle class="c6" cx="261.8" cy="460.9" r="4.25"/><circle class="c6" cx="259.2" cy="468.1" r="4.25"/><circle class="c4" cx="257.1" cy="466.1" r="4.25"/><circle class="c4" cx="226" cy="449.5" r="4.25"/><circle class="c4" cx="231.7" cy="472.3" r="4.25"/><circle class="c4" cx="245.7" cy="463" r="4.25"/><circle class="c4" cx="225" cy="439.1" r="4.25"/></g>
<text class="t" x="108.8" y="530.6" text-anchor="middle">0</text>
<text class="t" x="99.7" y="505" text-anchor="end">0</text>
<text class="t" x="210.2" y="530.6" text-anchor="middle">500</text>
<text class="t" x="99.7" y="410.4" text-anchor="end">500</text>
<text class="t" x="311.6" y="530.6" text-anchor="middle">1000</text>
<text class="t" x="99.7" y="315.9" text-anchor="end">1000</text>
<text class="t" x="413.1" y="530.6" text-anchor="middle">1500</text>
<text class="t" x="99.7" y="221.3" text-anchor="end">1500</text>
<text class="t" x="514.5" y="530.6" text-anchor="middle">2000</text>
<text class="t" x="99.7" y="126.7" text-anchor="end">2000</text>
<text class="l" x="311.1" y="566.8" text-anchor="middle">RMSE between Iage and B-P age</text>
<text class="l" transform="translate(23.8 305.9) rotate(-90)" text-anchor="middle">RMSE between Iage and BwP age</text>
<text class="g" x="131.5" y="156.1">(a)</text>
<rect class="c0" x="556.1" y="457.2" width="18.9" height="38.1"/>
<rect class="c1" x="556.1" y="419.3" width="18.9" height="38.1"/>
<rect class="c2" x="556.1" y="381.5" width="18.9" height="38.1"/>
<rect class="c3" x="556.1" y="343.7" width="18.9" height="38.1"/>
<rect class="c4" x="556.1" y="305.9" width="18.9" height="38.1"/>
<rect class="c5" x="556.1" y="268" width="18.9" height="38.1"/>
<rect class="c6" x="556.1" y="230.2" width="18.9" height="38.1"/>
<rect class="c7" x="556.1" y="192.4" width="18.9" height="38.1"/>
<rect class="c8" x="556.1" y="154.5" width="18.9" height="38.1"/>
<rect class="c9" x="556.1" y="116.7" width="18.9" height="38.1"/>
<rect x="556.1" y="116.7" width="18.9" height="378.3" fill="none" stroke="#262626" stroke-width="0.8" stroke-opacity="0.75"/>
<text class="t" x="583.1" y="505.4" textLength="58.7" lengthAdjust="spacingAndGlyphs">1000</text>
<text class="t" x="583.1" y="429.7" textLength="58.7" lengthAdjust="spacingAndGlyphs">1800</text>
<path d="M575 419.3h-3.4" stroke="#262626" stroke-width="0.8"/>
<text class="t" x="583.1" y="354.1" textLength="58.7" lengthAdjust="spacingAndGlyphs">2600</text>
<path d="M575 343.7h-3.4" stroke="#262626" stroke-width="0.8"/>
<text class="t" x="583.1" y="278.4" textLength="58.7" lengthAdjust="spacingAndGlyphs">3400</text>
<path d="M575 268h-3.4" stroke="#262626" stroke-width="0.8"/>
<text class="t" x="583.1" y="202.8" textLength="58.7" lengthAdjust="spacingAndGlyphs">4200</text>
<path d="M575 192.4h-3.4" stroke="#262626" stroke-width="0.8"/>
<text class="t" x="583.1" y="127.1" textLength="58.7" lengthAdjust="spacingAndGlyphs">5000</text>
<text class="m" x="566.7" y="101.5" text-anchor="middle">(m)</text>
</g>
<g id="panel-b">
<path d="M802.5 112.5H1250.8M802.5 490.6H1250.8" stroke="#262626" stroke-width="4.9" fill="none"/>
<path d="M805.2 112.5V490.6M1248 112.5V490.6" stroke="#262626" stroke-width="5.5" fill="none"/>
<path d="M915.9 490.6v-6.4M915.9 112.5v6.4M805.2 207h6.4M1248 207h-6.4M1026.6 490.6v-6.4M1026.6 112.5v6.4M805.2 301.6h6.4M1248 301.6h-6.4M1137.3 490.6v-6.4M1137.3 112.5v6.4M805.2 396.1h6.4M1248 396.1h-6.4" stroke="#262626" stroke-width="5.1" fill="none"/>
<line x1="805.2" y1="301.6" x2="1248" y2="301.6" stroke="#000" stroke-width="2.5" stroke-dasharray="9.7 9.22" stroke-dashoffset="0.5"/>
<line x1="1026.6" y1="490.6" x2="1026.6" y2="112.5" stroke="#000" stroke-width="2.5" stroke-dasharray="9.3 9.6" stroke-dashoffset="0.5"/>
<g class="dots"><circle class="c0" cx="952.9" cy="143.6" r="4.05"/><circle class="c0" cx="961.7" cy="144.2" r="4.05"/><circle class="c0" cx="973.4" cy="141.3" r="4.05"/><circle class="c0" cx="957.4" cy="149.8" r="4.05"/><circle class="c0" cx="962" cy="152.5" r="4.05"/><circle class="c0" cx="937.7" cy="156.3" r="4.05"/><circle class="c0" cx="940.3" cy="158.1" r="4.05"/><circle class="c0" cx="946" cy="169.5" r="4.05"/><circle class="c0" cx="950.6" cy="171.4" r="4.05"/><circle class="c0" cx="962.8" cy="170.9" r="4.05"/><circle class="c0" cx="972.4" cy="182.1" r="4.05"/><circle class="c0" cx="909.5" cy="192.6" r="4.05"/><circle class="c4" cx="945.4" cy="191.6" r="4.05"/><circle class="c4" cx="972.4" cy="189.5" r="4.05"/><circle class="c4" cx="966.7" cy="197.3" r="4.05"/><circle class="c4" cx="944.4" cy="203.3" r="4.05"/><circle class="c4" cx="948.6" cy="214.1" r="4.05"/><circle class="c4" cx="960" cy="214.9" r="4.05"/><circle class="c4" cx="952.7" cy="221.1" r="4.05"/><circle class="c4" cx="963.6" cy="224.3" r="4.05"/><circle class="c0" cx="952.2" cy="198" r="4.05"/><circle class="c0" cx="969.8" cy="198.3" r="4.05"/><circle class="c1" cx="894.1" cy="214.4" r="4.05"/><circle class="c1" cx="891" cy="222.2" r="4.05"/><circle class="c1" cx="927.1" cy="223.7" r="4.05"/><circle class="c5" cx="972.9" cy="217" r="4.05"/><circle class="c3" cx="966.2" cy="223.7" r="4.05"/><circle class="c2" cx="973.4" cy="202.5" r="4.05"/><circle class="c2" cx="974" cy="213.9" r="4.05"/><circle class="c2" cx="969.8" cy="223.2" r="4.05"/><circle class="c0" cx="1033.6" cy="124.2" r="4.05"/><circle class="c0" cx="1036.2" cy="127.3" r="4.05"/><circle class="c0" cx="1042.4" cy="127" r="4.05"/><circle class="c0" cx="1008.2" cy="128.6" r="4.05"/><circle class="c0" cx="1109.8" cy="130.4" r="4.05"/><circle class="c7" cx="1083.6" cy="133" r="4.05"/><circle class="c0" cx="1006.9" cy="134.3" r="4.05"/><circle class="c0" cx="1055.9" cy="136.1" r="4.05"/><circle class="c0" cx="977.6" cy="139.2" r="4.05"/><circle class="c0" cx="983.8" cy="137.1" r="4.05"/><circle class="c0" cx="982.3" cy="140.3" r="4.05"/><circle class="c0" cx="990.3" cy="138.7" r="4.05"/><circle class="c0" cx="1033.9" cy="138.7" r="4.05"/><circle class="c0" cx="1020.1" cy="141.8" r="4.05"/><circle class="c0" cx="1041.4" cy="142" r="4.05"/><circle class="c5" cx="1100.5" cy="135.1" r="4.05"/><circle class="c5" cx="1107.7" cy="137.1" r="4.05"/><circle class="c5" cx="1073" cy="139.7" r="4.05"/><circle class="c5" cx="1077.1" cy="143.9" r="4.05"/><circle class="c5" cx="1055.4" cy="142.3" r="4.05"/><circle class="c2" cx="1078.2" cy="139.2" r="4.05"/><circle class="c2" cx="1097.4" cy="141.8" r="4.05"/><circle class="c2" cx="1069.9" cy="144.4" r="4.05"/><circle class="c6" cx="1051.7" cy="141.3" r="4.05"/><circle class="c1" cx="1058.5" cy="144.4" r="4.05"/><circle class="c0" cx="1065.2" cy="142.3" r="4.05"/><circle class="c0" cx="1093.2" cy="141.3" r="4.05"/><circle class="c0" cx="1113.4" cy="139.7" r="4.05"/><circle class="c3" cx="1101" cy="144.4" r="4.05"/><circle class="c0" cx="1008" cy="144.9" r="4.05"/><circle class="c0" cx="990.8" cy="148" r="4.05"/><circle class="c0" cx="1028.9" cy="144.9" r="4.05"/><circle class="c0" cx="1033.1" cy="144.4" r="4.05"/><circle class="c0" cx="1048.6" cy="147" r="4.05"/><circle class="c0" cx="1020.6" cy="149.6" r="4.05"/><circle class="c0" cx="1044" cy="151.7" r="4.05"/><circle class="c0" cx="1053.8" cy="152.7" r="4.05"/><circle class="c0" cx="1068.9" cy="147.5" r="4.05"/><circle class="c0" cx="1084.4" cy="147.5" r="4.05"/><circle class="c6" cx="1084.9" cy="150.1" r="4.05"/><circle class="c5" cx="1003.8" cy="154.3" r="4.05"/><circle class="c5" cx="1013.9" cy="155.8" r="4.05"/><circle class="c5" cx="1014.9" cy="152.7" r="4.05"/><circle class="c5" cx="1068.3" cy="153.2" r="4.05"/><circle class="c5" cx="1076.6" cy="153.2" r="4.05"/><circle class="c5" cx="1082.9" cy="152.2" r="4.05"/><circle class="c0" cx="1090.1" cy="153.2" r="4.05"/><circle class="c4" cx="1101.5" cy="152.2" r="4.05"/><circle class="c4" cx="1108.8" cy="151.7" r="4.05"/><circle class="c4" cx="1112.9" cy="148.6" r="4.05"/><circle class="c4" cx="1113.4" cy="154.8" r="4.05"/><circle class="c2" cx="1093.7" cy="152.2" r="4.05"/><circle class="c5" cx="1002.5" cy="161" r="4.05"/><circle class="c5" cx="1042.4" cy="156.3" r="4.05"/><circle class="c5" cx="1025.3" cy="163.1" r="4.05"/><circle class="c5" cx="1046" cy="165.7" r="4.05"/><circle class="c5" cx="1091.1" cy="161.8" r="4.05"/><circle class="c5" cx="1054.9" cy="157.9" r="4.05"/><circle class="c0" cx="1023.7" cy="154.8" r="4.05"/><circle class="c0" cx="1031.5" cy="155.8" r="4.05"/><circle class="c0" cx="1026.9" cy="158.9" r="4.05"/><circle class="c0" cx="1012.9" cy="163.6" r="4.05"/><circle class="c0" cx="983.1" cy="164.6" r="4.05"/><circle class="c0" cx="1021.1" cy="163.6" r="4.05"/><circle class="c0" cx="1034.6" cy="164.1" r="4.05"/><circle class="c0" cx="1078.7" cy="161" r="4.05"/><circle class="c0" cx="1082.9" cy="158.9" r="4.05"/><circle class="c4" cx="1055.4" cy="161.5" r="4.05"/><circle class="c4" cx="1100" cy="161.5" r="4.05"/><circle class="c4" cx="1103.6" cy="160" r="4.05"/><circle class="c4" cx="1072" cy="163.1" r="4.05"/><circle class="c4" cx="1114" cy="157.9" r="4.05"/><circle class="c1" cx="1065.7" cy="158.4" r="4.05"/><circle class="c1" cx="1109.8" cy="160" r="4.05"/><circle class="c1" cx="1085.4" cy="163.1" r="4.05"/><circle class="c5" cx="1114" cy="165.1" r="4.05"/><circle class="c6" cx="1000.1" cy="167.7" r="4.05"/><circle class="c3" cx="1021.7" cy="173.4" r="4.05"/><circle class="c3" cx="1036.2" cy="174" r="4.05"/><circle class="c5" cx="1042.4" cy="172.4" r="4.05"/><circle class="c4" cx="1037.2" cy="166.2" r="4.05"/><circle class="c4" cx="1033.1" cy="170.3" r="4.05"/><circle class="c4" cx="1030" cy="172.4" r="4.05"/><circle class="c4" cx="1065.2" cy="168.3" r="4.05"/><circle class="c4" cx="1068.3" cy="171.4" r="4.05"/><circle class="c4" cx="1077.7" cy="169.3" r="4.05"/><circle class="c4" cx="1079.7" cy="173.4" r="4.05"/><circle class="c4" cx="1086.5" cy="170.3" r="4.05"/><circle class="c4" cx="1065.7" cy="176.6" r="4.05"/><circle class="c4" cx="1080.8" cy="176.6" r="4.05"/><circle class="c1" cx="1024.3" cy="168.8" r="4.05"/><circle class="c1" cx="1105.1" cy="168.3" r="4.05"/><circle class="c1" cx="1108.8" cy="172.4" r="4.05"/><circle class="c1" cx="1060.6" cy="175.5" r="4.05"/><circle class="c1" cx="1072" cy="175.5" r="4.05"/><circle class="c1" cx="1096.9" cy="174.5" r="4.05"/><circle class="c1" cx="1047.6" cy="172.4" r="4.05"/><circle class="c2" cx="1014.9" cy="172.4" r="4.05"/><circle class="c2" cx="1054.3" cy="169.3" r="4.05"/><circle class="c2" cx="1011.3" cy="177.6" r="4.05"/><circle class="c2" cx="1001.4" cy="177.6" r="4.05"/><circle class="c2" cx="1042.4" cy="175.5" r="4.05"/><circle class="c2" cx="1101.5" cy="167.2" r="4.05"/><circle class="c0" cx="1003.5" cy="175.5" r="4.05"/><circle class="c0" cx="1018" cy="178.1" r="4.05"/><circle class="c0" cx="1025.8" cy="177.6" r="4.05"/><circle class="c0" cx="1050.7" cy="177.6" r="4.05"/><circle class="c0" cx="1031.5" cy="179.1" r="4.05"/><circle class="c0" cx="1067.3" cy="179.7" r="4.05"/><circle class="c5" cx="1030" cy="186.9" r="4.05"/><circle class="c5" cx="1013.9" cy="187.4" r="4.05"/><circle class="c5" cx="1036.2" cy="180.7" r="4.05"/><circle class="c4" cx="990" cy="181.2" r="4.05"/><circle class="c4" cx="1032" cy="183.8" r="4.05"/><circle class="c4" cx="982.3" cy="188" r="4.05"/><circle class="c4" cx="1051.7" cy="183.8" r="4.05"/><circle class="c3" cx="1010.3" cy="188" r="4.05"/><circle class="c3" cx="1097.9" cy="185.9" r="4.05"/><circle class="c2" cx="999.9" cy="180.7" r="4.05"/><circle class="c2" cx="1002" cy="185.9" r="4.05"/><circle class="c2" cx="982.8" cy="191.1" r="4.05"/><circle class="c2" cx="1092.7" cy="180.2" r="4.05"/><circle class="c0" cx="992.6" cy="186.4" r="4.05"/><circle class="c0" cx="1100" cy="181.2" r="4.05"/><circle class="c0" cx="1110.9" cy="181.2" r="4.05"/><circle class="c0" cx="1055.9" cy="188" r="4.05"/><circle class="c0" cx="1080.8" cy="186.9" r="4.05"/><circle class="c0" cx="1084.9" cy="191.1" r="4.05"/><circle class="c0" cx="1064.2" cy="188" r="4.05"/><circle class="c1" cx="1041.4" cy="182.8" r="4.05"/><circle class="c1" cx="1047.6" cy="185.9" r="4.05"/><circle class="c1" cx="1038.3" cy="184.9" r="4.05"/><circle class="c1" cx="1068.3" cy="188" r="4.05"/><circle class="c1" cx="1073" cy="186.9" r="4.05"/><circle class="c1" cx="1077.7" cy="183.8" r="4.05"/><circle class="c1" cx="1090.1" cy="186.9" r="4.05"/><circle class="c1" cx="1105.7" cy="187.4" r="4.05"/><circle class="c1" cx="1063.1" cy="182.3" r="4.05"/><circle class="c1" cx="1109.8" cy="191.1" r="4.05"/><circle class="c1" cx="1095.3" cy="193.1" r="4.05"/><circle class="c3" cx="998" cy="194.7" r="4.05"/><circle class="c3" cx="1026.9" cy="197.3" r="4.05"/><circle class="c5" cx="1025.6" cy="192.1" r="4.05"/><circle class="c4" cx="1007.1" cy="196.3" r="4.05"/><circle class="c4" cx="1014.9" cy="192.1" r="4.05"/><circle class="c4" cx="1014.4" cy="197.3" r="4.05"/><circle class="c4" cx="1010.8" cy="194.2" r="4.05"/><circle class="c4" cx="1077.7" cy="200.4" r="4.05"/><circle class="c0" cx="1023.7" cy="196.8" r="4.05"/><circle class="c0" cx="1035.7" cy="194.7" r="4.05"/><circle class="c0" cx="1061.1" cy="200.4" r="4.05"/><circle class="c0" cx="1086.5" cy="199.9" r="4.05"/><circle class="c0" cx="1089.1" cy="193.1" r="4.05"/><circle class="c0" cx="1095.3" cy="200.4" r="4.05"/><circle class="c1" cx="1037.2" cy="198.3" r="4.05"/><circle class="c1" cx="1060" cy="192.6" r="4.05"/><circle class="c1" cx="1054.9" cy="199.4" r="4.05"/><circle class="c1" cx="1100.5" cy="196.3" r="4.05"/><circle class="c1" cx="1106.7" cy="193.1" r="4.05"/><circle class="c2" cx="1049.1" cy="199.9" r="4.05"/><circle class="c2" cx="1073.5" cy="201.4" r="4.05"/><circle class="c2" cx="1106.7" cy="202" r="4.05"/><circle class="c4" cx="983.8" cy="204" r="4.05"/><circle class="c4" cx="1031.5" cy="204.6" r="4.05"/><circle class="c4" cx="1008.7" cy="207.1" r="4.05"/><circle class="c3" cx="990.6" cy="204" r="4.05"/><circle class="c2" cx="1019.6" cy="203" r="4.05"/><circle class="c2" cx="984.9" cy="210.8" r="4.05"/><circle class="c2" cx="977.1" cy="202.5" r="4.05"/><circle class="c0" cx="977.6" cy="205.6" r="4.05"/><circle class="c0" cx="1097.9" cy="204.6" r="4.05"/><circle class="c0" cx="1108.8" cy="206.1" r="4.05"/><circle class="c0" cx="1098.9" cy="208.7" r="4.05"/><circle class="c0" cx="1114.5" cy="210.8" r="4.05"/><circle class="c1" cx="1046.6" cy="205.1" r="4.05"/><circle class="c1" cx="1062.1" cy="205.1" r="4.05"/><circle class="c1" cx="1028.4" cy="208.7" r="4.05"/><circle class="c1" cx="1038.3" cy="210.8" r="4.05"/><circle class="c1" cx="1092.2" cy="207.7" r="4.05"/><circle class="c1" cx="1094.3" cy="212.9" r="4.05"/><circle class="c4" cx="983.3" cy="217.5" r="4.05"/><circle class="c4" cx="977.1" cy="222.2" r="4.05"/><circle class="c3" cx="1059" cy="212.3" r="4.05"/><circle class="c3" cx="1088" cy="215.4" r="4.05"/><circle class="c3" cx="1058.5" cy="220.6" r="4.05"/><circle class="c2" cx="1000.4" cy="215.4" r="4.05"/><circle class="c2" cx="1005.6" cy="219.1" r="4.05"/><circle class="c2" cx="1030.5" cy="217.5" r="4.05"/><circle class="c2" cx="977.1" cy="214.4" r="4.05"/><circle class="c2" cx="1046" cy="219.6" r="4.05"/><circle class="c1" cx="1011.8" cy="215.4" r="4.05"/><circle class="c1" cx="1022.2" cy="219.1" r="4.05"/><circle class="c1" cx="1073" cy="219.1" r="4.05"/><circle class="c1" cx="1016" cy="223.7" r="4.05"/><circle class="c1" cx="1082.9" cy="221.1" r="4.05"/><circle class="c1" cx="1101.5" cy="224.3" r="4.05"/><circle class="c1" cx="1114.5" cy="218" r="4.05"/><circle class="c0" cx="1052.8" cy="221.1" r="4.05"/><circle class="c0" cx="1082.3" cy="222.2" r="4.05"/><circle class="c0" cx="1030" cy="223.2" r="4.05"/><circle class="c2" cx="988" cy="222.7" r="4.05"/><circle class="c2" cx="1066.3" cy="223.7" r="4.05"/><circle class="c2" cx="1114" cy="223.2" r="4.05"/><circle class="c0" cx="1227.1" cy="128.5" r="4.05"/><circle class="c0" cx="1234.1" cy="128.2" r="4.05"/><circle class="c0" cx="1243.1" cy="125.1" r="4.05"/><circle class="c0" cx="1223.8" cy="132.4" r="4.05"/><circle class="c0" cx="1229.8" cy="133.4" r="4.05"/><circle class="c0" cx="1238.6" cy="132.6" r="4.05"/><circle class="c0" cx="1224.8" cy="140.3" r="4.05"/><circle class="c0" cx="1231.2" cy="140.6" r="4.05"/><circle class="c0" cx="1243.3" cy="142.1" r="4.05"/><circle class="c0" cx="1214.7" cy="146.1" r="4.05"/><circle class="c0" cx="1221.5" cy="145.8" r="4.05"/><circle class="c0" cx="1231.3" cy="148.3" r="4.05"/><circle class="c0" cx="1236.7" cy="146" r="4.05"/><circle class="c0" cx="1242.9" cy="148" r="4.05"/><circle class="c0" cx="1210.4" cy="152.3" r="4.05"/><circle class="c0" cx="1215.9" cy="154.1" r="4.05"/><circle class="c0" cx="1226.9" cy="151.9" r="4.05"/><circle class="c0" cx="1234.9" cy="154.7" r="4.05"/><circle class="c0" cx="1239" cy="154.4" r="4.05"/><circle class="c0" cx="1222.3" cy="160.8" r="4.05"/><circle class="c1" cx="1214.4" cy="138.2" r="4.05"/><circle class="c1" cx="1223.1" cy="137.1" r="4.05"/><circle class="c1" cx="1232.2" cy="139.9" r="4.05"/><circle class="c1" cx="1220.8" cy="149.5" r="4.05"/><circle class="c1" cx="1228.9" cy="148.4" r="4.05"/><circle class="c1" cx="1211.3" cy="156.9" r="4.05"/><circle class="c1" cx="1220.9" cy="153.1" r="4.05"/><circle class="c1" cx="1230.5" cy="158.1" r="4.05"/><circle class="c1" cx="1220.5" cy="165.5" r="4.05"/><circle class="c1" cx="1227.2" cy="164" r="4.05"/><circle class="c0" cx="1130.3" cy="206.1" r="4.05"/><circle class="c0" cx="1123.4" cy="212.9" r="4.05"/><circle class="c0" cx="1129.9" cy="212.2" r="4.05"/><circle class="c0" cx="1142.6" cy="213.7" r="4.05"/><circle class="c0" cx="1153.2" cy="213.5" r="4.05"/><circle class="c0" cx="1169" cy="212.3" r="4.05"/><circle class="c0" cx="1178.6" cy="218.1" r="4.05"/><circle class="c8" cx="1195.9" cy="117.4" r="4.05"/><circle class="c8" cx="1185.5" cy="121.6" r="4.05"/><circle class="c8" cx="1233.2" cy="118" r="4.05"/><circle class="c9" cx="1203.7" cy="115.4" r="4.05"/><circle class="c9" cx="1224.4" cy="113.8" r="4.05"/><circle class="c9" cx="1236.3" cy="114.3" r="4.05"/><circle class="c9" cx="1232.2" cy="115.4" r="4.05"/><circle class="c7" cx="1209.9" cy="115.9" r="4.05"/><circle class="c7" cx="1217.7" cy="116.4" r="4.05"/><circle class="c7" cx="1163.2" cy="123.1" r="4.05"/><circle class="c7" cx="1173.6" cy="122.6" r="4.05"/><circle class="c7" cx="1177.2" cy="124.2" r="4.05"/><circle class="c7" cx="1182.4" cy="127.3" r="4.05"/><circle class="c7" cx="1190.7" cy="122.6" r="4.05"/><circle class="c7" cx="1229.1" cy="120.6" r="4.05"/><circle class="c7" cx="1226" cy="122.6" r="4.05"/><circle class="c5" cx="1143" cy="128.9" r="4.05"/><circle class="c5" cx="1168.4" cy="126.8" r="4.05"/><circle class="c5" cx="1126.9" cy="132.5" r="4.05"/><circle class="c5" cx="1137.3" cy="134.6" r="4.05"/><circle class="c5" cx="1145.6" cy="134" r="4.05"/><circle class="c5" cx="1193.8" cy="130.9" r="4.05"/><circle class="c5" cx="1206.3" cy="130.9" r="4.05"/><circle class="c5" cx="1166.9" cy="133" r="4.05"/><circle class="c5" cx="1177.2" cy="137.1" r="4.05"/><circle class="c5" cx="1185.5" cy="139.2" r="4.05"/><circle class="c5" cx="1192.8" cy="139.2" r="4.05"/><circle class="c5" cx="1144" cy="140.8" r="4.05"/><circle class="c5" cx="1123.3" cy="140.3" r="4.05"/><circle class="c5" cx="1147.1" cy="139.2" r="4.05"/><circle class="c5" cx="1169.4" cy="143.9" r="4.05"/><circle class="c5" cx="1174.6" cy="144.9" r="4.05"/><circle class="c5" cx="1181.4" cy="143.4" r="4.05"/><circle class="c5" cx="1156" cy="147.5" r="4.05"/><circle class="c5" cx="1138.9" cy="153.7" r="4.05"/><circle class="c5" cx="1149.2" cy="151.1" r="4.05"/><circle class="c5" cx="1127.4" cy="158.9" r="4.05"/><circle class="c5" cx="1211.4" cy="129.9" r="4.05"/><circle class="c6" cx="1214.6" cy="121.1" r="4.05"/><circle class="c6" cx="1209.4" cy="123.7" r="4.05"/><circle class="c6" cx="1152.9" cy="125.7" r="4.05"/><circle class="c6" cx="1153.9" cy="132.5" r="4.05"/><circle class="c6" cx="1171.5" cy="133" r="4.05"/><circle class="c6" cx="1132.6" cy="139.2" r="4.05"/><circle class="c6" cx="1218.7" cy="124.2" r="4.05"/><circle class="c6" cx="1204.2" cy="135.1" r="4.05"/><circle class="c4" cx="1215.1" cy="125.7" r="4.05"/><circle class="c4" cx="1220.3" cy="130.4" r="4.05"/><circle class="c4" cx="1149.2" cy="130.9" r="4.05"/><circle class="c4" cx="1159.6" cy="142.3" r="4.05"/><circle class="c4" cx="1152.9" cy="145.4" r="4.05"/><circle class="c4" cx="1129" cy="144.9" r="4.05"/><circle class="c4" cx="1117.6" cy="149.6" r="4.05"/><circle class="c4" cx="1201.1" cy="146" r="4.05"/><circle class="c4" cx="1189.7" cy="149.1" r="4.05"/><circle class="c4" cx="1243.1" cy="148" r="4.05"/><circle class="c4" cx="1190.7" cy="137.1" r="4.05"/><circle class="c3" cx="1236.9" cy="123.7" r="4.05"/><circle class="c3" cx="1125.9" cy="149.1" r="4.05"/><circle class="c3" cx="1216.1" cy="141.8" r="4.05"/><circle class="c3" cx="1200" cy="153.2" r="4.05"/><circle class="c3" cx="1208.3" cy="152.7" r="4.05"/><circle class="c3" cx="1206.3" cy="159.4" r="4.05"/><circle class="c3" cx="1212" cy="161" r="4.05"/><circle class="c3" cx="1218.7" cy="143.4" r="4.05"/><circle class="c1" cx="1200.9" cy="124.7" r="4.05"/><circle class="c1" cx="1240.5" cy="122.6" r="4.05"/><circle class="c1" cx="1133.7" cy="127.8" r="4.05"/><circle class="c1" cx="1121.7" cy="135.6" r="4.05"/><circle class="c1" cx="1232.2" cy="129.9" r="4.05"/><circle class="c1" cx="1165.8" cy="137.1" r="4.05"/><circle class="c1" cx="1213.5" cy="134" r="4.05"/><circle class="c1" cx="1196.9" cy="133" r="4.05"/><circle class="c1" cx="1223.9" cy="136.1" r="4.05"/><circle class="c1" cx="1162.7" cy="150.6" r="4.05"/><circle class="c1" cx="1164.8" cy="153.7" r="4.05"/><circle class="c1" cx="1231.1" cy="136.1" r="4.05"/><circle class="c1" cx="1229.1" cy="143.4" r="4.05"/><circle class="c0" cx="1120.2" cy="127.8" r="4.05"/><circle class="c0" cx="1227" cy="128.9" r="4.05"/><circle class="c0" cx="1236.3" cy="132" r="4.05"/><circle class="c0" cx="1242.6" cy="128.9" r="4.05"/><circle class="c0" cx="1227.5" cy="140.3" r="4.05"/><circle class="c0" cx="1237.9" cy="138.2" r="4.05"/><circle class="c0" cx="1208.9" cy="145.4" r="4.05"/><circle class="c0" cx="1219.7" cy="148.6" r="4.05"/><circle class="c0" cx="1215.1" cy="151.7" r="4.05"/><circle class="c0" cx="1227.5" cy="153.7" r="4.05"/><circle class="c0" cx="1238.4" cy="149.6" r="4.05"/><circle class="c0" cx="1233.2" cy="158.4" r="4.05"/><circle class="c0" cx="1131.1" cy="153.2" r="4.05"/><circle class="c2" cx="1246.2" cy="114.9" r="4.05"/><circle class="c2" cx="1243.6" cy="118.5" r="4.05"/><circle class="c2" cx="1205.2" cy="141.3" r="4.05"/><circle class="c2" cx="1182.4" cy="151.7" r="4.05"/><circle class="c2" cx="1145.1" cy="156.3" r="4.05"/><circle class="c2" cx="1227" cy="147.5" r="4.05"/><circle class="c2" cx="1235.3" cy="150.6" r="4.05"/><circle class="c4" cx="1119.1" cy="168.3" r="4.05"/><circle class="c4" cx="1142.5" cy="168.3" r="4.05"/><circle class="c4" cx="1167.9" cy="168.3" r="4.05"/><circle class="c4" cx="1170" cy="171.4" r="4.05"/><circle class="c4" cx="1165.3" cy="192.1" r="4.05"/><circle class="c4" cx="1130" cy="194.2" r="4.05"/><circle class="c3" cx="1180.5" cy="170.9" r="4.05"/><circle class="c3" cx="1156" cy="185.4" r="4.05"/><circle class="c3" cx="1185.5" cy="179.7" r="4.05"/><circle class="c0" cx="1179.3" cy="160" r="4.05"/><circle class="c0" cx="1121.7" cy="164.1" r="4.05"/><circle class="c0" cx="1133.1" cy="163.6" r="4.05"/><circle class="c0" cx="1149.2" cy="165.1" r="4.05"/><circle class="c0" cx="1139.9" cy="161.5" r="4.05"/><circle class="c0" cx="1200" cy="161.5" r="4.05"/><circle class="c0" cx="1218.7" cy="161.5" r="4.05"/><circle class="c0" cx="1193.8" cy="171.9" r="4.05"/><circle class="c0" cx="1145.1" cy="174.5" r="4.05"/><circle class="c0" cx="1158.6" cy="174" r="4.05"/><circle class="c0" cx="1171" cy="177.1" r="4.05"/><circle class="c0" cx="1157.5" cy="178.1" r="4.05"/><circle class="c0" cx="1179.3" cy="179.1" r="4.05"/><circle class="c0" cx="1194.9" cy="182.3" r="4.05"/><circle class="c0" cx="1216.6" cy="177.6" r="4.05"/><circle class="c0" cx="1211.4" cy="182.8" r="4.05"/><circle class="c0" cx="1215.6" cy="186.9" r="4.05"/><circle class="c0" cx="1172.6" cy="186.4" r="4.05"/><circle class="c0" cx="1140.9" cy="184.9" r="4.05"/><circle class="c0" cx="1145.1" cy="185.9" r="4.05"/><circle class="c0" cx="1159.6" cy="190" r="4.05"/><circle class="c0" cx="1233.2" cy="168.3" r="4.05"/><circle class="c1" cx="1193.8" cy="156.9" r="4.05"/><circle class="c1" cx="1166.9" cy="164.1" r="4.05"/><circle class="c1" cx="1153.9" cy="170.3" r="4.05"/><circle class="c1" cx="1154.4" cy="167.2" r="4.05"/><circle class="c1" cx="1200" cy="168.3" r="4.05"/><circle class="c1" cx="1200" cy="173.4" r="4.05"/><circle class="c1" cx="1212.5" cy="170.3" r="4.05"/><circle class="c1" cx="1218.7" cy="166.2" r="4.05"/><circle class="c1" cx="1227" cy="167.2" r="4.05"/><circle class="c1" cx="1132.1" cy="185.4" r="4.05"/><circle class="c1" cx="1165.3" cy="184.9" r="4.05"/><circle class="c1" cx="1234.8" cy="179.1" r="4.05"/><circle class="c1" cx="1230.1" cy="181.7" r="4.05"/><circle class="c1" cx="1233.2" cy="185.9" r="4.05"/><circle class="c1" cx="1198" cy="188" r="4.05"/><circle class="c1" cx="1179.8" cy="166.2" r="4.05"/><circle class="c2" cx="1187.6" cy="162.6" r="4.05"/><circle class="c2" cx="1126.9" cy="167.2" r="4.05"/><circle class="c2" cx="1127.4" cy="175.5" r="4.05"/><circle class="c2" cx="1150.3" cy="180.2" r="4.05"/><circle class="c2" cx="1230.1" cy="165.7" r="4.05"/><circle class="c2" cx="1188.6" cy="171.4" r="4.05"/><circle class="c2" cx="1184.5" cy="188.5" r="4.05"/><circle class="c2" cx="1189.7" cy="181.7" r="4.05"/><circle class="c2" cx="1228" cy="162.6" r="4.05"/><circle class="c0" cx="1140.9" cy="194.2" r="4.05"/><circle class="c0" cx="1237.9" cy="193.7" r="4.05"/><circle class="c0" cx="1242" cy="195.2" r="4.05"/><circle class="c0" cx="1205.7" cy="196.3" r="4.05"/><circle class="c0" cx="1186.6" cy="198.3" r="4.05"/><circle class="c0" cx="1174.1" cy="200.4" r="4.05"/><circle class="c0" cx="1237.4" cy="204" r="4.05"/><circle class="c0" cx="1192.8" cy="207.1" r="4.05"/><circle class="c0" cx="1160.6" cy="204.6" r="4.05"/><circle class="c0" cx="1163.7" cy="208.7" r="4.05"/><circle class="c1" cx="1148.7" cy="194.7" r="4.05"/><circle class="c1" cx="1149.7" cy="200.9" r="4.05"/><circle class="c1" cx="1159.1" cy="198.3" r="4.05"/><circle class="c1" cx="1176.2" cy="197.3" r="4.05"/><circle class="c1" cx="1200" cy="198.3" r="4.05"/><circle class="c1" cx="1202.1" cy="204.6" r="4.05"/><circle class="c1" cx="1204.7" cy="210.3" r="4.05"/><circle class="c1" cx="1129.5" cy="198.3" r="4.05"/><circle class="c1" cx="1168.4" cy="208.2" r="4.05"/><circle class="c1" cx="1181.4" cy="210.8" r="4.05"/><circle class="c1" cx="1172.6" cy="215.4" r="4.05"/><circle class="c1" cx="1177.2" cy="213.4" r="4.05"/><circle class="c2" cx="1121.7" cy="192.1" r="4.05"/><circle class="c2" cx="1118.6" cy="197.8" r="4.05"/><circle class="c2" cx="1186.6" cy="194.2" r="4.05"/><circle class="c2" cx="1133.7" cy="205.6" r="4.05"/><circle class="c2" cx="1206.3" cy="199.9" r="4.05"/><circle class="c0" cx="1118.1" cy="207.7" r="4.05"/><circle class="c0" cx="1124.3" cy="207.1" r="4.05"/><circle class="c0" cx="1121.2" cy="213.9" r="4.05"/><circle class="c0" cx="1130.6" cy="212.9" r="4.05"/><circle class="c0" cx="1150.8" cy="211.3" r="4.05"/><circle class="c0" cx="1153.4" cy="213.9" r="4.05"/><circle class="c0" cx="1161.7" cy="214.9" r="4.05"/><circle class="c0" cx="1186.6" cy="216" r="4.05"/><circle class="c0" cx="1183.4" cy="220.1" r="4.05"/><circle class="c0" cx="1191.7" cy="221.1" r="4.05"/><circle class="c0" cx="1203.1" cy="220.1" r="4.05"/><circle class="c0" cx="1116.6" cy="214.9" r="4.05"/><circle class="c0" cx="1125.4" cy="217" r="4.05"/><circle class="c0" cx="1148.2" cy="218" r="4.05"/><circle class="c0" cx="1123.8" cy="224.3" r="4.05"/><circle class="c1" cx="1142" cy="208.7" r="4.05"/><circle class="c1" cx="1142" cy="217" r="4.05"/><circle class="c1" cx="1151.8" cy="220.6" r="4.05"/><circle class="c1" cx="1142.5" cy="223.2" r="4.05"/><circle class="c1" cx="1117.1" cy="222.2" r="4.05"/><circle class="c0" cx="1222.9" cy="132" r="4.05"/><circle class="c0" cx="1232.2" cy="146.5" r="4.05"/><circle class="c0" cx="1239.4" cy="142.3" r="4.05"/><circle class="c0" cx="1241.5" cy="135.1" r="4.05"/><circle class="c0" cx="1221.8" cy="153.7" r="4.05"/><circle class="c0" cx="1218.7" cy="154.8" r="4.05"/><circle class="c0" cx="1214.6" cy="156.9" r="4.05"/><circle class="c0" cx="1239.4" cy="154.8" r="4.05"/><circle class="c0" cx="1210.4" cy="179.7" r="4.05"/><circle class="c0" cx="1213.5" cy="184.9" r="4.05"/><circle class="c0" cx="1217.7" cy="181.7" r="4.05"/><circle class="c0" cx="1234.3" cy="135.1" r="4.05"/><circle class="c1" cx="1222.9" cy="163.1" r="4.05"/><circle class="c1" cx="1217.1" cy="167.2" r="4.05"/><circle class="c1" cx="1213.5" cy="166.2" r="4.05"/><circle class="c1" cx="1219.7" cy="138.2" r="4.05"/><circle class="c1" cx="1235.3" cy="144.4" r="4.05"/><circle class="c1" cx="932" cy="311.1" r="4.05"/><circle class="c4" cx="960.5" cy="226" r="4.05"/><circle class="c4" cx="970.9" cy="229.7" r="4.05"/><circle class="c4" cx="944.9" cy="240" r="4.05"/><circle class="c4" cx="938.5" cy="247.3" r="4.05"/><circle class="c4" cx="946.5" cy="245.7" r="4.05"/><circle class="c4" cx="952.2" cy="246.3" r="4.05"/><circle class="c4" cx="946.5" cy="250.9" r="4.05"/><circle class="c4" cx="957.9" cy="241.1" r="4.05"/><circle class="c4" cx="964.6" cy="241.1" r="4.05"/><circle class="c4" cx="939.2" cy="284.1" r="4.05"/><circle class="c4" cx="951.7" cy="284.6" r="4.05"/><circle class="c4" cx="942.3" cy="298.1" r="4.05"/><circle class="c4" cx="952.2" cy="304.3" r="4.05"/><circle class="c4" cx="955.3" cy="309" r="4.05"/><circle class="c3" cx="959.4" cy="235.9" r="4.05"/><circle class="c3" cx="965.7" cy="236.9" r="4.05"/><circle class="c3" cx="961" cy="240.6" r="4.05"/><circle class="c3" cx="953.2" cy="249.9" r="4.05"/><circle class="c3" cx="929.4" cy="270.6" r="4.05"/><circle class="c3" cx="944.9" cy="267.5" r="4.05"/><circle class="c3" cx="941.3" cy="276.3" r="4.05"/><circle class="c3" cx="943.4" cy="284.6" r="4.05"/><circle class="c3" cx="936.1" cy="310.6" r="4.05"/><circle class="c3" cx="933.8" cy="316.1" r="4.05"/><circle class="c3" cx="944.4" cy="321.7" r="4.05"/><circle class="c3" cx="960" cy="311.1" r="4.05"/><circle class="c3" cx="963.6" cy="315.2" r="4.05"/><circle class="c3" cx="967.7" cy="312.6" r="4.05"/><circle class="c3" cx="974.5" cy="270.1" r="4.05"/><circle class="c2" cx="948.9" cy="229.7" r="4.05"/><circle class="c2" cx="963.8" cy="230" r="4.05"/><circle class="c2" cx="933.5" cy="250.1" r="4.05"/><circle class="c2" cx="959.1" cy="249.4" r="4.05"/><circle class="c2" cx="970.3" cy="250.1" r="4.05"/><circle class="c2" cx="974" cy="237.4" r="4.05"/><circle class="c2" cx="973.4" cy="243.7" r="4.05"/><circle class="c2" cx="913.3" cy="269.1" r="4.05"/><circle class="c2" cx="932" cy="268" r="4.05"/><circle class="c2" cx="939.7" cy="264.9" r="4.05"/><circle class="c2" cx="964.1" cy="264.9" r="4.05"/><circle class="c2" cx="934.6" cy="278.9" r="4.05"/><circle class="c2" cx="932.5" cy="288.5" r="4.05"/><circle class="c2" cx="909.7" cy="291.2" r="4.05"/><circle class="c2" cx="948" cy="290.1" r="4.05"/><circle class="c2" cx="957.1" cy="287" r="4.05"/><circle class="c2" cx="968.3" cy="292.4" r="4.05"/><circle class="c2" cx="930.6" cy="295.7" r="4.05"/><circle class="c2" cx="943.9" cy="300.7" r="4.05"/><circle class="c2" cx="949.1" cy="313.1" r="4.05"/><circle class="c2" cx="956.3" cy="314.7" r="4.05"/><circle class="c2" cx="966.7" cy="323" r="4.05"/><circle class="c2" cx="970.9" cy="322.5" r="4.05"/><circle class="c2" cx="966.7" cy="327.1" r="4.05"/><circle class="c2" cx="938.7" cy="286.2" r="4.05"/><circle class="c2" cx="974.5" cy="322.5" r="4.05"/><circle class="c0" cx="906.6" cy="271.1" r="4.05"/><circle class="c1" cx="870.5" cy="238.3" r="4.05"/><circle class="c1" cx="888.4" cy="239.8" r="4.05"/><circle class="c1" cx="910.5" cy="250.1" r="4.05"/><circle class="c1" cx="927.3" cy="249.7" r="4.05"/><circle class="c1" cx="885.6" cy="269.4" r="4.05"/><circle class="c1" cx="905.1" cy="277.1" r="4.05"/><circle class="c1" cx="913.5" cy="275.3" r="4.05"/><circle class="c1" cx="921.9" cy="273.7" r="4.05"/><circle class="c1" cx="928.9" cy="277.9" r="4.05"/><circle class="c1" cx="927.1" cy="283.1" r="4.05"/><circle class="c1" cx="936.1" cy="270.1" r="4.05"/><circle class="c1" cx="946.2" cy="264.9" r="4.05"/><circle class="c1" cx="957.4" cy="255.1" r="4.05"/><circle class="c1" cx="961" cy="258.7" r="4.05"/><circle class="c1" cx="964.6" cy="269.8" r="4.05"/><circle class="c1" cx="922.9" cy="297.1" r="4.05"/><circle class="c1" cx="883.7" cy="298.1" r="4.05"/><circle class="c1" cx="883.7" cy="302.6" r="4.05"/><circle class="c1" cx="909.7" cy="299.1" r="4.05"/><circle class="c1" cx="911.2" cy="305.4" r="4.05"/><circle class="c1" cx="962.3" cy="296.6" r="4.05"/><circle class="c1" cx="963.6" cy="304.9" r="4.05"/><circle class="c1" cx="949.6" cy="298.6" r="4.05"/><circle class="c4" cx="976.6" cy="226" r="4.05"/><circle class="c4" cx="980.7" cy="263.9" r="4.05"/><circle class="c4" cx="998" cy="257.1" r="4.05"/><circle class="c4" cx="1014.9" cy="271.1" r="4.05"/><circle class="c4" cx="1040.9" cy="272.5" r="4.05"/><circle class="c4" cx="1023.7" cy="273.7" r="4.05"/><circle class="c4" cx="1016.5" cy="263.4" r="4.05"/><circle class="c4" cx="1024.3" cy="256.1" r="4.05"/><circle class="c3" cx="1002.5" cy="235.9" r="4.05"/><circle class="c3" cx="1028.9" cy="235.4" r="4.05"/><circle class="c3" cx="1042.6" cy="232.5" r="4.05"/><circle class="c3" cx="1065.2" cy="234.1" r="4.05"/><circle class="c3" cx="1059.8" cy="241.1" r="4.05"/><circle class="c3" cx="1045.5" cy="245.2" r="4.05"/><circle class="c3" cx="1016.5" cy="246.3" r="4.05"/><circle class="c3" cx="985.9" cy="260.8" r="4.05"/><circle class="c3" cx="978.1" cy="270.1" r="4.05"/><circle class="c3" cx="981" cy="284.4" r="4.05"/><circle class="c3" cx="1020.9" cy="280" r="4.05"/><circle class="c0" cx="1013.9" cy="255.1" r="4.05"/><circle class="c0" cx="1079.2" cy="239.5" r="4.05"/><circle class="c0" cx="1110.3" cy="241.6" r="4.05"/><circle class="c0" cx="1025.3" cy="270.1" r="4.05"/><circle class="c0" cx="1026.9" cy="279.4" r="4.05"/><circle class="c0" cx="1035.1" cy="278.9" r="4.05"/><circle class="c0" cx="1104.1" cy="279.2" r="4.05"/><circle class="c0" cx="1051.2" cy="294.5" r="4.05"/><circle class="c0" cx="1018.6" cy="266.5" r="4.05"/><circle class="c1" cx="1007.1" cy="228.1" r="4.05"/><circle class="c1" cx="1055.9" cy="229.7" r="4.05"/><circle class="c1" cx="1010.3" cy="237.4" r="4.05"/><circle class="c1" cx="1000.4" cy="239.5" r="4.05"/><circle class="c1" cx="993.7" cy="239" r="4.05"/><circle class="c1" cx="987.4" cy="244.2" r="4.05"/><circle class="c1" cx="980.2" cy="249.9" r="4.05"/><circle class="c1" cx="986.4" cy="247.8" r="4.05"/><circle class="c1" cx="1033.1" cy="240" r="4.05"/><circle class="c1" cx="1037.2" cy="241.6" r="4.05"/><circle class="c1" cx="1048.6" cy="233.8" r="4.05"/><circle class="c1" cx="1051.2" cy="235.9" r="4.05"/><circle class="c1" cx="1048.6" cy="247.3" r="4.05"/><circle class="c1" cx="1047.6" cy="250.9" r="4.05"/><circle class="c1" cx="1020.6" cy="245.2" r="4.05"/><circle class="c1" cx="990.3" cy="256.1" r="4.05"/><circle class="c1" cx="1003.5" cy="256.1" r="4.05"/><circle class="c1" cx="1006.6" cy="259.7" r="4.05"/><circle class="c1" cx="991.6" cy="262.3" r="4.05"/><circle class="c1" cx="989.5" cy="266.5" r="4.05"/><circle class="c1" cx="980.2" cy="272.7" r="4.05"/><circle class="c1" cx="1025.8" cy="261.8" r="4.05"/><circle class="c1" cx="1028.4" cy="265.4" r="4.05"/><circle class="c1" cx="1040.9" cy="266" r="4.05"/><circle class="c1" cx="1053.8" cy="269.1" r="4.05"/><circle class="c1" cx="1056.9" cy="268.6" r="4.05"/><circle class="c1" cx="1059.5" cy="272.2" r="4.05"/><circle class="c1" cx="1073.5" cy="260.8" r="4.05"/><circle class="c1" cx="1081.3" cy="254.6" r="4.05"/><circle class="c1" cx="1087" cy="252" r="4.05"/><circle class="c1" cx="1088" cy="256.1" r="4.05"/><circle class="c1" cx="1090.6" cy="260.8" r="4.05"/><circle class="c1" cx="1093.2" cy="249.4" r="4.05"/><circle class="c1" cx="1094.3" cy="244.2" r="4.05"/><circle class="c1" cx="1092.2" cy="240.6" r="4.05"/><circle class="c1" cx="1094.3" cy="233.8" r="4.05"/><circle class="c1" cx="1086.5" cy="232.3" r="4.05"/><circle class="c1" cx="1086" cy="228.1" r="4.05"/><circle class="c1" cx="1075.1" cy="234.3" r="4.05"/><circle class="c1" cx="1079.7" cy="233.3" r="4.05"/><circle class="c1" cx="1102.6" cy="238" r="4.05"/><circle class="c1" cx="1101" cy="226.6" r="4.05"/><circle class="c1" cx="1110.9" cy="238.5" r="4.05"/><circle class="c1" cx="1112.9" cy="231.2" r="4.05"/><circle class="c1" cx="1105.1" cy="259.7" r="4.05"/><circle class="c1" cx="1113.4" cy="257.7" r="4.05"/><circle class="c1" cx="1095.1" cy="269.4" r="4.05"/><circle class="c1" cx="1082.1" cy="282.6" r="4.05"/><circle class="c1" cx="1046" cy="281" r="4.05"/><circle class="c1" cx="989.7" cy="279.4" r="4.05"/><circle class="c1" cx="989.5" cy="282.6" r="4.05"/><circle class="c1" cx="1006.6" cy="284.6" r="4.05"/><circle class="c1" cx="1022.7" cy="284.1" r="4.05"/><circle class="c1" cx="1025.1" cy="294.5" r="4.05"/><circle class="c1" cx="988.5" cy="301.7" r="4.05"/><circle class="c1" cx="1005.6" cy="301.7" r="4.05"/><circle class="c1" cx="1008.2" cy="306.9" r="4.05"/><circle class="c1" cx="1017" cy="304" r="4.05"/><circle class="c1" cx="1027.4" cy="303.3" r="4.05"/><circle class="c1" cx="1019.6" cy="311.6" r="4.05"/><circle class="c1" cx="1008.2" cy="315.7" r="4.05"/><circle class="c1" cx="1009.9" cy="322.5" r="4.05"/><circle class="c1" cx="1048.4" cy="304.6" r="4.05"/><circle class="c1" cx="1053.8" cy="294" r="4.05"/><circle class="c1" cx="1055.4" cy="297.6" r="4.05"/><circle class="c1" cx="986.9" cy="313.1" r="4.05"/><circle class="c1" cx="990.6" cy="316.8" r="4.05"/><circle class="c1" cx="1072" cy="226.6" r="4.05"/><circle class="c2" cx="987.4" cy="228.6" r="4.05"/><circle class="c2" cx="982.8" cy="230.7" r="4.05"/><circle class="c2" cx="976.6" cy="235.4" r="4.05"/><circle class="c2" cx="1031" cy="228.1" r="4.05"/><circle class="c2" cx="1066.3" cy="226" r="4.05"/><circle class="c2" cx="1014.4" cy="238" r="4.05"/><circle class="c2" cx="1033.1" cy="246.8" r="4.05"/><circle class="c2" cx="1038.8" cy="247.3" r="4.05"/><circle class="c2" cx="1055.9" cy="245.7" r="4.05"/><circle class="c2" cx="1018.6" cy="250.9" r="4.05"/><circle class="c2" cx="1027.4" cy="254.6" r="4.05"/><circle class="c2" cx="1023.7" cy="258.2" r="4.05"/><circle class="c2" cx="1017.5" cy="261.8" r="4.05"/><circle class="c2" cx="1077.7" cy="262.3" r="4.05"/><circle class="c2" cx="1079.7" cy="263.4" r="4.05"/><circle class="c2" cx="1077.7" cy="267.5" r="4.05"/><circle class="c2" cx="1066.8" cy="269.1" r="4.05"/><circle class="c2" cx="1013.9" cy="275.8" r="4.05"/><circle class="c2" cx="1005.1" cy="290.3" r="4.05"/><circle class="c2" cx="1016" cy="291.7" r="4.05"/><circle class="c2" cx="983.5" cy="292.4" r="4.05"/><circle class="c2" cx="992.6" cy="294" r="4.05"/><circle class="c2" cx="1042.4" cy="290.9" r="4.05"/><circle class="c2" cx="1046.6" cy="288.8" r="4.05"/><circle class="c2" cx="981.4" cy="302.3" r="4.05"/><circle class="c2" cx="993.1" cy="299.1" r="4.05"/><circle class="c2" cx="983.8" cy="314.7" r="4.05"/><circle class="c2" cx="977.1" cy="322" r="4.05"/><circle class="c2" cx="1081.8" cy="228.1" r="4.05"/><circle class="c2" cx="1077.1" cy="239.5" r="4.05"/><circle class="c2" cx="975.5" cy="243.7" r="4.05"/><circle class="c2" cx="1114.5" cy="237.4" r="4.05"/><circle class="c3" cx="1124.9" cy="234.3" r="4.05"/><circle class="c0" cx="1123.3" cy="228.1" r="4.05"/><circle class="c0" cx="1149.2" cy="229.7" r="4.05"/><circle class="c0" cx="1140.9" cy="237.7" r="4.05"/><circle class="c0" cx="1157.5" cy="238.5" r="4.05"/><circle class="c0" cx="1125.9" cy="240" r="4.05"/><circle class="c0" cx="1130.6" cy="243.7" r="4.05"/><circle class="c0" cx="1135.2" cy="247.1" r="4.05"/><circle class="c0" cx="1197.7" cy="232.5" r="4.05"/><circle class="c0" cx="1177.9" cy="296.6" r="4.05"/><circle class="c0" cx="1116.6" cy="323" r="4.05"/><circle class="c1" cx="1127.4" cy="229.7" r="4.05"/><circle class="c1" cx="1145.1" cy="227.6" r="4.05"/><circle class="c1" cx="1163.7" cy="233.6" r="4.05"/><circle class="c1" cx="1150.3" cy="238.3" r="4.05"/><circle class="c1" cx="1122.8" cy="243.7" r="4.05"/><circle class="c1" cx="1129.5" cy="250.9" r="4.05"/><circle class="c1" cx="1131.6" cy="259.2" r="4.05"/><circle class="c1" cx="1145.4" cy="262.9" r="4.05"/><circle class="c1" cx="1115" cy="257.7" r="4.05"/><circle class="c1" cx="1194.3" cy="244.9" r="4.05"/><circle class="c1" cx="1188.6" cy="253.5" r="4.05"/><circle class="c1" cx="1185.5" cy="272.4" r="4.05"/><circle class="c1" cx="1215.4" cy="299.5" r="4.05"/><circle class="c2" cx="1116.6" cy="236.4" r="4.05"/><circle class="c2" cx="1154.7" cy="235.1" r="4.05"/><circle class="c2" cx="1180.1" cy="252" r="4.05"/><circle class="c2" cx="1199" cy="264.4" r="4.05"/><circle class="c2" cx="1160.9" cy="310.6" r="4.05"/><circle class="c1" cx="1047.3" cy="359.9" r="4.05"/><circle class="c1" cx="1206.8" cy="375" r="4.05"/><circle class="c1" cx="1191.5" cy="384.8" r="4.05"/></g>
<text class="t" x="805.2" y="526.2" text-anchor="middle">-1</text>
<text class="t" x="796.1" y="500.6" text-anchor="end">-1</text>
<text class="t" x="915.9" y="526.2" text-anchor="middle">-0.5</text>
<text class="t" x="796.1" y="406.1" text-anchor="end">-0.5</text>
<text class="t" x="1026.6" y="526.2" text-anchor="middle">0</text>
<text class="t" x="796.1" y="311.6" text-anchor="end">0</text>
<text class="t" x="1137.3" y="526.2" text-anchor="middle">0.5</text>
<text class="t" x="796.1" y="217" text-anchor="end">0.5</text>
<text class="t" x="1248" y="526.2" text-anchor="middle">1</text>
<text class="t" x="796.1" y="122.5" text-anchor="end">1</text>
<text class="l" x="1026.6" y="563.2" text-anchor="middle">Correlation between Iage and B-P age</text>
<text class="l" transform="translate(735.2 280.2) rotate(-90)" text-anchor="middle">Correlaiton between Iage and BwP age</text>
<text class="g" x="829.5" y="153.9">(b)</text>
<rect class="c0" x="1266.4" y="452.8" width="19.2" height="38.1"/>
<rect class="c1" x="1266.4" y="415" width="19.2" height="38.1"/>
<rect class="c2" x="1266.4" y="377.2" width="19.2" height="38.1"/>
<rect class="c3" x="1266.4" y="339.4" width="19.2" height="38.1"/>
<rect class="c4" x="1266.4" y="301.6" width="19.2" height="38.1"/>
<rect class="c5" x="1266.4" y="263.7" width="19.2" height="38.1"/>
<rect class="c6" x="1266.4" y="225.9" width="19.2" height="38.1"/>
<rect class="c7" x="1266.4" y="188.1" width="19.2" height="38.1"/>
<rect class="c8" x="1266.4" y="150.3" width="19.2" height="38.1"/>
<rect class="c9" x="1266.4" y="112.5" width="19.2" height="38.1"/>
<rect x="1266.4" y="112.5" width="19.2" height="378.1" fill="none" stroke="#262626" stroke-width="0.8" stroke-opacity="0.75"/>
<text class="t" x="1292.3" y="501" textLength="58.7" lengthAdjust="spacingAndGlyphs">1000</text>
<text class="t" x="1292.3" y="425.4" textLength="58.7" lengthAdjust="spacingAndGlyphs">1800</text>
<path d="M1285.6 415h-3.4" stroke="#262626" stroke-width="0.8"/>
<text class="t" x="1292.3" y="349.8" textLength="58.7" lengthAdjust="spacingAndGlyphs">2600</text>
<path d="M1285.6 339.4h-3.4" stroke="#262626" stroke-width="0.8"/>
<text class="t" x="1292.3" y="274.1" textLength="58.7" lengthAdjust="spacingAndGlyphs">3400</text>
<path d="M1285.6 263.7h-3.4" stroke="#262626" stroke-width="0.8"/>
<text class="t" x="1292.3" y="198.5" textLength="58.7" lengthAdjust="spacingAndGlyphs">4200</text>
<path d="M1285.6 188.1h-3.4" stroke="#262626" stroke-width="0.8"/>
<text class="t" x="1292.3" y="122.9" textLength="58.7" lengthAdjust="spacingAndGlyphs">5000</text>
<text class="m" x="1275.3" y="96.6" text-anchor="middle">(m)</text>
</g>
<g id="panel-c">
<path d="M106.5 697.3H516.8M106.5 1075.6H516.8" stroke="#262626" stroke-width="4.6" fill="none"/>
<path d="M108.8 697.3V1075.6M514.5 697.3V1075.6" stroke="#262626" stroke-width="4.6" fill="none"/>
<path d="M210.2 1075.6v-6.4M210.2 697.3v6.4M108.8 791.9h6.4M514.5 791.9h-6.4M311.6 1075.6v-6.4M311.6 697.3v6.4M108.8 886.4h6.4M514.5 886.4h-6.4M413.1 1075.6v-6.4M413.1 697.3v6.4M108.8 981h6.4M514.5 981h-6.4" stroke="#262626" stroke-width="4.6" fill="none"/>
<line x1="108.8" y1="1075.6" x2="514.5" y2="697.3" stroke="#000" stroke-width="2.5" stroke-dasharray="9.8 9.1" stroke-dashoffset="1.0"/>
<g class="dots"><circle class="c3" cx="202.7" cy="858.7" r="4.25"/><circle class="c2" cx="206.3" cy="863.9" r="4.25"/><circle class="c2" cx="209.9" cy="886.7" r="4.25"/><circle class="c1" cx="208.9" cy="866.4" r="4.25"/><circle class="c1" cx="211" cy="869" r="4.25"/><circle class="c0" cx="213.6" cy="872.7" r="4.25"/><circle class="c0" cx="215.6" cy="874.2" r="4.25"/><circle class="c0" cx="215.8" cy="893.6" r="4.25"/><circle class="c0" cx="237.9" cy="949.9" r="4.25"/><circle class="c0" cx="241.6" cy="954.1" r="4.25"/><circle class="c0" cx="241" cy="954.9" r="4.25"/><circle class="c0" cx="238.5" cy="957.9" r="4.25"/><circle class="c0" cx="243.6" cy="958.3" r="4.25"/><circle class="c0" cx="234.2" cy="964.8" r="4.25"/><circle class="c0" cx="239.7" cy="962.6" r="4.25"/><circle class="c0" cx="245.4" cy="962" r="4.25"/><circle class="c0" cx="237.9" cy="968.7" r="4.25"/><circle class="c0" cx="242.9" cy="967.5" r="4.25"/><circle class="c0" cx="248.2" cy="967.9" r="4.25"/><circle class="c0" cx="238.8" cy="970.9" r="4.25"/><circle class="c0" cx="244" cy="971.5" r="4.25"/><circle class="c0" cx="249.6" cy="972" r="4.25"/><circle class="c0" cx="255.4" cy="973.9" r="4.25"/><circle class="c0" cx="236.3" cy="976" r="4.25"/><circle class="c0" cx="242.3" cy="978" r="4.25"/><circle class="c0" cx="248.2" cy="977.8" r="4.25"/><circle class="c0" cx="253.3" cy="978.4" r="4.25"/><circle class="c0" cx="229.6" cy="980.5" r="4.25"/><circle class="c0" cx="235.7" cy="982.4" r="4.25"/><circle class="c0" cx="240.9" cy="982.4" r="4.25"/><circle class="c0" cx="245.6" cy="982.1" r="4.25"/><circle class="c0" cx="251.3" cy="980.8" r="4.25"/><circle class="c0" cx="253.9" cy="981.9" r="4.25"/><circle class="c0" cx="227.8" cy="986.1" r="4.25"/><circle class="c0" cx="232" cy="985.4" r="4.25"/><circle class="c0" cx="235.8" cy="987" r="4.25"/><circle class="c0" cx="241.3" cy="987.5" r="4.25"/><circle class="c0" cx="247.5" cy="984.8" r="4.25"/><circle class="c0" cx="253.9" cy="985.6" r="4.25"/><circle class="c0" cx="256.8" cy="984.7" r="4.25"/><circle class="c0" cx="261.5" cy="986.6" r="4.25"/><circle class="c0" cx="224.5" cy="990" r="4.25"/><circle class="c0" cx="228" cy="990.7" r="4.25"/><circle class="c0" cx="233.9" cy="989.8" r="4.25"/><circle class="c0" cx="238.3" cy="990.5" r="4.25"/><circle class="c0" cx="245.7" cy="991.1" r="4.25"/><circle class="c0" cx="249.5" cy="991.9" r="4.25"/><circle class="c0" cx="255.5" cy="991.2" r="4.25"/><circle class="c0" cx="259" cy="990.1" r="4.25"/><circle class="c0" cx="265.4" cy="990.1" r="4.25"/><circle class="c0" cx="221.6" cy="993.4" r="4.25"/><circle class="c0" cx="227.9" cy="996.3" r="4.25"/><circle class="c0" cx="232.3" cy="995.8" r="4.25"/><circle class="c0" cx="237.7" cy="996.2" r="4.25"/><circle class="c0" cx="241.6" cy="994.8" r="4.25"/><circle class="c0" cx="248.1" cy="996.3" r="4.25"/><circle class="c0" cx="251.9" cy="995.6" r="4.25"/><circle class="c0" cx="256.3" cy="995.2" r="4.25"/><circle class="c0" cx="261.8" cy="993.7" r="4.25"/><circle class="c0" cx="269.5" cy="994.5" r="4.25"/><circle class="c0" cx="219.4" cy="1000.9" r="4.25"/><circle class="c0" cx="224.5" cy="998.3" r="4.25"/><circle class="c0" cx="227.7" cy="1000.2" r="4.25"/><circle class="c0" cx="234.8" cy="1000.3" r="4.25"/><circle class="c0" cx="240.7" cy="999.9" r="4.25"/><circle class="c0" cx="246.4" cy="999.1" r="4.25"/><circle class="c0" cx="250.8" cy="999" r="4.25"/><circle class="c0" cx="256.1" cy="998.6" r="4.25"/><circle class="c0" cx="260.2" cy="1000.3" r="4.25"/><circle class="c0" cx="264.3" cy="1000.6" r="4.25"/><circle class="c0" cx="271.4" cy="999.1" r="4.25"/><circle class="c0" cx="217" cy="1004.5" r="4.25"/><circle class="c0" cx="220" cy="1002.8" r="4.25"/><circle class="c0" cx="225.3" cy="1003.3" r="4.25"/><circle class="c0" cx="231.8" cy="1004.1" r="4.25"/><circle class="c0" cx="237.9" cy="1002.3" r="4.25"/><circle class="c0" cx="241.9" cy="1004.8" r="4.25"/><circle class="c0" cx="247.8" cy="1004.7" r="4.25"/><circle class="c0" cx="253.9" cy="1002.7" r="4.25"/><circle class="c0" cx="258.3" cy="1003.8" r="4.25"/><circle class="c0" cx="264" cy="1004.1" r="4.25"/><circle class="c0" cx="269" cy="1005.3" r="4.25"/><circle class="c0" cx="272.3" cy="1003" r="4.25"/><circle class="c0" cx="218.1" cy="1008.5" r="4.25"/><circle class="c0" cx="223.8" cy="1008.9" r="4.25"/><circle class="c0" cx="228.4" cy="1008.8" r="4.25"/><circle class="c0" cx="234.3" cy="1009" r="4.25"/><circle class="c0" cx="239.2" cy="1007.3" r="4.25"/><circle class="c0" cx="245.4" cy="1008.5" r="4.25"/><circle class="c0" cx="249.6" cy="1009.4" r="4.25"/><circle class="c0" cx="260.1" cy="1009.5" r="4.25"/><circle class="c0" cx="266.8" cy="1008" r="4.25"/><circle class="c0" cx="270.4" cy="1008.2" r="4.25"/><circle class="c0" cx="276.1" cy="1009.8" r="4.25"/><circle class="c0" cx="216.9" cy="1012.3" r="4.25"/><circle class="c0" cx="220.1" cy="1012.2" r="4.25"/><circle class="c0" cx="227.3" cy="1014.1" r="4.25"/><circle class="c0" cx="230.6" cy="1014.1" r="4.25"/><circle class="c0" cx="237.6" cy="1011.4" r="4.25"/><circle class="c0" cx="242.8" cy="1012.5" r="4.25"/><circle class="c0" cx="218.9" cy="1016" r="4.25"/><circle class="c0" cx="222.8" cy="1018" r="4.25"/><circle class="c0" cx="228" cy="1016.6" r="4.25"/><circle class="c0" cx="235.6" cy="1017" r="4.25"/><circle class="c0" cx="238.5" cy="1016.5" r="4.25"/><circle class="c0" cx="215.6" cy="1021.5" r="4.25"/><circle class="c0" cx="221.4" cy="1020.8" r="4.25"/><circle class="c0" cx="226" cy="1021.4" r="4.25"/><circle class="c0" cx="230.7" cy="1021.9" r="4.25"/><circle class="c0" cx="238.2" cy="1020.4" r="4.25"/><circle class="c0" cx="218.8" cy="1024.8" r="4.25"/><circle class="c0" cx="225.6" cy="1025.5" r="4.25"/><circle class="c0" cx="228.7" cy="1025.2" r="4.25"/><circle class="c0" cx="233" cy="1027.5" r="4.25"/><circle class="c0" cx="238.4" cy="1026.6" r="4.25"/><circle class="c0" cx="220.6" cy="1030.3" r="4.25"/><circle class="c0" cx="225.6" cy="1030" r="4.25"/><circle class="c0" cx="231.5" cy="1029.4" r="4.25"/><circle class="c0" cx="236.4" cy="1029.7" r="4.25"/><circle class="c0" cx="214.7" cy="1034.2" r="4.25"/><circle class="c0" cx="217.6" cy="1035.7" r="4.25"/><circle class="c0" cx="224" cy="1035.9" r="4.25"/><circle class="c0" cx="230" cy="1035.3" r="4.25"/><circle class="c0" cx="235.8" cy="1033.8" r="4.25"/><circle class="c0" cx="217.5" cy="1039.8" r="4.25"/><circle class="c0" cx="220.8" cy="1040" r="4.25"/><circle class="c0" cx="226.9" cy="1039.5" r="4.25"/><circle class="c0" cx="233.2" cy="1039.1" r="4.25"/><circle class="c0" cx="236.8" cy="1040" r="4.25"/><circle class="c0" cx="208.2" cy="1043.7" r="4.25"/><circle class="c0" cx="213.2" cy="1044.3" r="4.25"/><circle class="c0" cx="218.3" cy="1044.5" r="4.25"/><circle class="c0" cx="223.6" cy="1043.8" r="4.25"/><circle class="c0" cx="230.3" cy="1043.4" r="4.25"/><circle class="c0" cx="235.5" cy="1045.4" r="4.25"/><circle class="c0" cx="204.5" cy="1050" r="4.25"/><circle class="c0" cx="211.9" cy="1048.6" r="4.25"/><circle class="c0" cx="216.9" cy="1050" r="4.25"/><circle class="c0" cx="222.7" cy="1047.4" r="4.25"/><circle class="c0" cx="226" cy="1049.9" r="4.25"/><circle class="c0" cx="204.4" cy="1052.5" r="4.25"/><circle class="c0" cx="208.8" cy="1052.8" r="4.25"/><circle class="c0" cx="212.3" cy="1052.4" r="4.25"/><circle class="c0" cx="218" cy="1054.8" r="4.25"/><circle class="c0" cx="202.3" cy="1058.9" r="4.25"/><circle class="c0" cx="205.8" cy="1059.2" r="4.25"/><circle class="c0" cx="209.8" cy="1056.7" r="4.25"/><circle class="c0" cx="215.9" cy="1058.7" r="4.25"/><circle class="c0" cx="220.4" cy="1056.8" r="4.25"/><circle class="c0" cx="214.8" cy="1061.8" r="4.25"/><circle class="c0" cx="239.6" cy="951" r="4.25"/><circle class="c0" cx="242.2" cy="954.7" r="4.25"/><circle class="c0" cx="247.9" cy="960.9" r="4.25"/><circle class="c0" cx="240.7" cy="961.4" r="4.25"/><circle class="c0" cx="233.9" cy="965" r="4.25"/><circle class="c0" cx="236.5" cy="973.3" r="4.25"/><circle class="c0" cx="244.8" cy="971.3" r="4.25"/><circle class="c0" cx="251.6" cy="970.2" r="4.25"/><circle class="c0" cx="255.7" cy="974.9" r="4.25"/><circle class="c0" cx="228.7" cy="981.1" r="4.25"/><circle class="c0" cx="257.8" cy="980.6" r="4.25"/><circle class="c0" cx="224.1" cy="985.3" r="4.25"/><circle class="c0" cx="220.4" cy="992.5" r="4.25"/><circle class="c0" cx="218.9" cy="996.1" r="4.25"/><circle class="c0" cx="261.9" cy="986.3" r="4.25"/><circle class="c0" cx="268.1" cy="991.5" r="4.25"/><circle class="c0" cx="271.3" cy="996.7" r="4.25"/><circle class="c0" cx="273.3" cy="1001.9" r="4.25"/><circle class="c0" cx="278.5" cy="1007" r="4.25"/><circle class="c0" cx="283.7" cy="1012.2" r="4.25"/><circle class="c0" cx="216.8" cy="1006.5" r="4.25"/><circle class="c0" cx="215.8" cy="1011.2" r="4.25"/><circle class="c0" cx="216.3" cy="1021.6" r="4.25"/><circle class="c0" cx="217.3" cy="1028.8" r="4.25"/><circle class="c0" cx="209.6" cy="1028.8" r="4.25"/><circle class="c0" cx="213.2" cy="1037.1" r="4.25"/><circle class="c0" cx="205.9" cy="1047.5" r="4.25"/><circle class="c0" cx="202.3" cy="1052.7" r="4.25"/><circle class="c0" cx="199.7" cy="1058.9" r="4.25"/><circle class="c0" cx="204.9" cy="1061" r="4.25"/><circle class="c0" cx="212.1" cy="1064.1" r="4.25"/><circle class="c0" cx="216.3" cy="1064.1" r="4.25"/><circle class="c0" cx="220.4" cy="1058.9" r="4.25"/><circle class="c0" cx="221.5" cy="1054.7" r="4.25"/><circle class="c0" cx="233.9" cy="1047.5" r="4.25"/><circle class="c0" cx="229.8" cy="999.8" r="4.25"/><circle class="c0" cx="233.9" cy="991.5" r="4.25"/><circle class="c0" cx="242.2" cy="985.3" r="4.25"/><circle class="c0" cx="252.6" cy="981.1" r="4.25"/><circle class="c0" cx="226.7" cy="1002.9" r="4.25"/><circle class="c0" cx="235" cy="981.1" r="4.25"/><circle class="c0" cx="248.4" cy="979" r="4.25"/><circle class="c0" cx="238.1" cy="1048.5" r="4.25"/><circle class="c0" cx="226.7" cy="1008.1" r="4.25"/><circle class="c0" cx="221.5" cy="1014.3" r="4.25"/><circle class="c1" cx="240.2" cy="990.5" r="4.25"/><circle class="c1" cx="243.8" cy="991.3" r="4.25"/><circle class="c1" cx="242.1" cy="995.3" r="4.25"/><circle class="c1" cx="247.4" cy="995.6" r="4.25"/><circle class="c1" cx="253.3" cy="996.1" r="4.25"/><circle class="c1" cx="238.9" cy="1000" r="4.25"/><circle class="c1" cx="246.3" cy="1000.6" r="4.25"/><circle class="c1" cx="249" cy="999.8" r="4.25"/><circle class="c1" cx="256.2" cy="1000.4" r="4.25"/><circle class="c1" cx="258.9" cy="998.9" r="4.25"/><circle class="c1" cx="237.8" cy="1005.2" r="4.25"/><circle class="c1" cx="243.3" cy="1004.9" r="4.25"/><circle class="c1" cx="246.3" cy="1005.3" r="4.25"/><circle class="c1" cx="253.8" cy="1005.2" r="4.25"/><circle class="c1" cx="258.1" cy="1005.1" r="4.25"/><circle class="c1" cx="261.5" cy="1005.1" r="4.25"/><circle class="c1" cx="233.5" cy="1007.9" r="4.25"/><circle class="c1" cx="238.3" cy="1008.1" r="4.25"/><circle class="c1" cx="244.6" cy="1009.2" r="4.25"/><circle class="c1" cx="250.4" cy="1007.8" r="4.25"/><circle class="c1" cx="254.9" cy="1009.1" r="4.25"/><circle class="c1" cx="260.8" cy="1008" r="4.25"/><circle class="c1" cx="266.6" cy="1010.3" r="4.25"/><circle class="c1" cx="232.5" cy="1013.6" r="4.25"/><circle class="c1" cx="237.1" cy="1012.7" r="4.25"/><circle class="c1" cx="242.8" cy="1014.6" r="4.25"/><circle class="c1" cx="246.2" cy="1014.6" r="4.25"/><circle class="c1" cx="253.3" cy="1012.4" r="4.25"/><circle class="c1" cx="258.9" cy="1013.7" r="4.25"/><circle class="c1" cx="263.8" cy="1013.3" r="4.25"/><circle class="c1" cx="269" cy="1014.5" r="4.25"/><circle class="c1" cx="274.4" cy="1014.4" r="4.25"/><circle class="c1" cx="230.3" cy="1018.1" r="4.25"/><circle class="c1" cx="235.5" cy="1017.1" r="4.25"/><circle class="c1" cx="240.2" cy="1018" r="4.25"/><circle class="c1" cx="243.5" cy="1018.5" r="4.25"/><circle class="c1" cx="250.5" cy="1016.7" r="4.25"/><circle class="c1" cx="254.2" cy="1017.2" r="4.25"/><circle class="c1" cx="261.9" cy="1018.5" r="4.25"/><circle class="c1" cx="265.7" cy="1018.3" r="4.25"/><circle class="c1" cx="269.3" cy="1016.2" r="4.25"/><circle class="c1" cx="275.8" cy="1016.4" r="4.25"/><circle class="c1" cx="226.4" cy="1021.3" r="4.25"/><circle class="c1" cx="231.8" cy="1023.2" r="4.25"/><circle class="c1" cx="236.1" cy="1021.8" r="4.25"/><circle class="c1" cx="243.1" cy="1023" r="4.25"/><circle class="c1" cx="247.6" cy="1022.3" r="4.25"/><circle class="c1" cx="253.6" cy="1021.5" r="4.25"/><circle class="c1" cx="259" cy="1020.7" r="4.25"/><circle class="c1" cx="261.7" cy="1022.4" r="4.25"/><circle class="c1" cx="269" cy="1023.3" r="4.25"/><circle class="c1" cx="273.8" cy="1020.9" r="4.25"/><circle class="c1" cx="230.3" cy="1027.5" r="4.25"/><circle class="c1" cx="235.4" cy="1027.4" r="4.25"/><circle class="c1" cx="240.4" cy="1025.7" r="4.25"/><circle class="c1" cx="244.1" cy="1027.2" r="4.25"/><circle class="c1" cx="256.1" cy="1025.2" r="4.25"/><circle class="c1" cx="260.9" cy="1028.1" r="4.25"/><circle class="c1" cx="264.5" cy="1027" r="4.25"/><circle class="c1" cx="271.7" cy="1025.6" r="4.25"/><circle class="c1" cx="277.3" cy="1027" r="4.25"/><circle class="c1" cx="225.3" cy="1031.8" r="4.25"/><circle class="c1" cx="231.7" cy="1031.3" r="4.25"/><circle class="c1" cx="236.9" cy="1032.5" r="4.25"/><circle class="c1" cx="240.8" cy="1030.7" r="4.25"/><circle class="c1" cx="262.5" cy="1029.8" r="4.25"/><circle class="c1" cx="223.8" cy="1035.7" r="4.25"/><circle class="c1" cx="229.4" cy="1036.1" r="4.25"/><circle class="c1" cx="235.7" cy="1036" r="4.25"/><circle class="c1" cx="221.6" cy="1039.2" r="4.25"/><circle class="c1" cx="227.8" cy="1039" r="4.25"/><circle class="c1" cx="230.9" cy="1040.7" r="4.25"/><circle class="c1" cx="225.1" cy="1045.1" r="4.25"/><circle class="c1" cx="240.1" cy="990.4" r="4.25"/><circle class="c1" cx="246.4" cy="992.5" r="4.25"/><circle class="c1" cx="254.7" cy="995.6" r="4.25"/><circle class="c1" cx="260.9" cy="998.7" r="4.25"/><circle class="c1" cx="267.1" cy="1005" r="4.25"/><circle class="c1" cx="271.3" cy="1011.2" r="4.25"/><circle class="c1" cx="231.9" cy="1009.1" r="4.25"/><circle class="c1" cx="226.7" cy="1018.4" r="4.25"/><circle class="c1" cx="224.6" cy="1024.7" r="4.25"/><circle class="c1" cx="227.7" cy="1029.9" r="4.25"/><circle class="c1" cx="221.5" cy="1042.3" r="4.25"/><circle class="c1" cx="225.6" cy="1045.4" r="4.25"/><circle class="c1" cx="231.9" cy="1044.4" r="4.25"/><circle class="c1" cx="237" cy="1041.3" r="4.25"/><circle class="c1" cx="215.8" cy="1054.7" r="4.25"/><circle class="c1" cx="277.5" cy="1017.4" r="4.25"/><circle class="c1" cx="270.2" cy="1016.4" r="4.25"/><circle class="c1" cx="281.6" cy="1028.8" r="4.25"/><circle class="c1" cx="275.4" cy="1029.9" r="4.25"/><circle class="c1" cx="267.1" cy="1026.7" r="4.25"/><circle class="c1" cx="260.9" cy="1028.8" r="4.25"/><circle class="c2" cx="250.2" cy="1019.5" r="4.25"/><circle class="c2" cx="246.1" cy="1023.6" r="4.25"/><circle class="c2" cx="250.6" cy="1021.7" r="4.25"/><circle class="c2" cx="248.4" cy="1019.5" r="4.25"/><circle class="c2" cx="252.6" cy="1022.6" r="4.25"/><circle class="c2" cx="246.4" cy="1026.7" r="4.25"/><circle class="c2" cx="254.7" cy="1026.7" r="4.25"/><circle class="c2" cx="265" cy="1019.5" r="4.25"/><circle class="c2" cx="227.7" cy="1033" r="4.25"/><circle class="c2" cx="285.8" cy="1030.9" r="4.25"/><circle class="c2" cx="294.1" cy="1035" r="4.25"/><circle class="c2" cx="289.9" cy="1033" r="4.25"/><circle class="c4" cx="274.4" cy="1013.3" r="4.25"/><circle class="c4" cx="281.6" cy="1014.3" r="4.25"/><circle class="c4" cx="284.7" cy="1016.4" r="4.25"/><circle class="c4" cx="260.9" cy="1037.1" r="4.25"/><circle class="c4" cx="271.3" cy="1036.1" r="4.25"/><circle class="c4" cx="270.2" cy="1040.2" r="4.25"/><circle class="c4" cx="247.4" cy="1038.1" r="4.25"/><circle class="c4" cx="292.5" cy="1023.6" r="4.25"/><circle class="c4" cx="281.6" cy="1038.1" r="4.25"/><circle class="c4" cx="288.9" cy="1041.3" r="4.25"/><circle class="c4" cx="288.9" cy="1048.5" r="4.25"/><circle class="c4" cx="293" cy="1049.6" r="4.25"/><circle class="c4" cx="299.3" cy="1025.7" r="4.25"/><circle class="c4" cx="306.5" cy="1030.9" r="4.25"/><circle class="c4" cx="308.6" cy="1038.1" r="4.25"/><circle class="c4" cx="304.4" cy="1049.6" r="4.25"/><circle class="c4" cx="306.5" cy="1053.7" r="4.25"/><circle class="c4" cx="317.9" cy="1040.2" r="4.25"/><circle class="c4" cx="266.1" cy="1038.1" r="4.25"/><circle class="c4" cx="255.7" cy="1037.1" r="4.25"/><circle class="c3" cx="260.9" cy="1021.6" r="4.25"/><circle class="c3" cx="253.6" cy="1041.3" r="4.25"/><circle class="c3" cx="269.2" cy="1044.4" r="4.25"/><circle class="c3" cx="274.4" cy="1049.6" r="4.25"/><circle class="c3" cx="278.5" cy="1047.5" r="4.25"/><circle class="c3" cx="277.5" cy="1050.6" r="4.25"/><circle class="c3" cx="300.3" cy="1034" r="4.25"/><circle class="c9" cx="305.5" cy="1018.4" r="4.25"/><circle class="c9" cx="308.6" cy="1021.6" r="4.25"/><circle class="c8" cx="313.8" cy="1022.6" r="4.25"/><circle class="c5" cx="287.9" cy="1016.4" r="4.25"/><circle class="c5" cx="303.4" cy="1021.6" r="4.25"/><circle class="c5" cx="293" cy="1039.2" r="4.25"/><circle class="c5" cx="320" cy="1030.9" r="4.25"/><circle class="c7" cx="295.1" cy="1014.3" r="4.25"/><circle class="c7" cx="297.2" cy="1017.4" r="4.25"/><circle class="c6" cx="314.3" cy="1028.3" r="4.25"/><circle class="c2" cx="243.3" cy="1045.9" r="4.25"/><circle class="c2" cx="248.4" cy="1048.5" r="4.25"/><circle class="c2" cx="252.6" cy="1052.7" r="4.25"/><circle class="c2" cx="258.8" cy="1047" r="4.25"/><circle class="c2" cx="266.1" cy="1050.1" r="4.25"/><circle class="c2" cx="227.7" cy="1051.1" r="4.25"/><circle class="c2" cx="317.9" cy="1053.7" r="4.25"/><circle class="c0" cx="259.9" cy="1005.5" r="4.25"/><circle class="c0" cx="239.1" cy="1021" r="4.25"/><circle class="c0" cx="241.2" cy="1034" r="4.25"/><circle class="c0" cx="231.9" cy="1037.6" r="4.25"/><circle class="c0" cx="291" cy="1026.7" r="4.25"/><circle class="c0" cx="296.1" cy="1028.8" r="4.25"/><circle class="c1" cx="251" cy="1033" r="4.25"/><circle class="c1" cx="298.2" cy="1043.3" r="4.25"/><circle class="c1" cx="302.4" cy="1045.4" r="4.25"/><circle class="c1" cx="313.8" cy="1048.5" r="4.25"/><circle class="c1" cx="317.9" cy="1047.5" r="4.25"/><circle class="c1" cx="313.8" cy="1037.1" r="4.25"/><circle class="c4" cx="303.1" cy="1028.3" r="4.25"/><circle class="c4" cx="306.3" cy="1030.1" r="4.25"/><circle class="c4" cx="306" cy="1033.2" r="4.25"/><circle class="c4" cx="310.2" cy="1033.5" r="4.25"/><circle class="c4" cx="316.4" cy="1035.1" r="4.25"/><circle class="c4" cx="303.6" cy="1037.3" r="4.25"/><circle class="c4" cx="307.3" cy="1037.4" r="4.25"/><circle class="c4" cx="312.7" cy="1039.6" r="4.25"/><circle class="c4" cx="318.7" cy="1037.3" r="4.25"/><circle class="c4" cx="305" cy="1044" r="4.25"/><circle class="c4" cx="311" cy="1043" r="4.25"/><circle class="c4" cx="315.7" cy="1043.9" r="4.25"/><circle class="c4" cx="320.3" cy="1042" r="4.25"/><circle class="c4" cx="326.1" cy="1043.7" r="4.25"/><circle class="c4" cx="309.2" cy="1046.3" r="4.25"/><circle class="c4" cx="314.1" cy="1046.7" r="4.25"/><circle class="c4" cx="318.5" cy="1047.1" r="4.25"/><circle class="c4" cx="322.3" cy="1046.4" r="4.25"/><circle class="c4" cx="328.8" cy="1045.9" r="4.25"/><circle class="c4" cx="333.8" cy="1047.5" r="4.25"/><circle class="c4" cx="310.9" cy="1050.7" r="4.25"/><circle class="c4" cx="316.7" cy="1052.8" r="4.25"/><circle class="c4" cx="319.4" cy="1050.4" r="4.25"/><circle class="c4" cx="325.3" cy="1052.6" r="4.25"/><circle class="c4" cx="331.6" cy="1051.7" r="4.25"/><circle class="c4" cx="336.5" cy="1053.1" r="4.25"/><circle class="c4" cx="342.4" cy="1052.4" r="4.25"/><circle class="c4" cx="339.4" cy="1055.5" r="4.25"/><circle class="c2" cx="349.1" cy="1057.6" r="4.25"/><circle class="c2" cx="353.1" cy="1056.9" r="4.25"/><circle class="c9" cx="303.6" cy="1020.5" r="4.25"/><circle class="c9" cx="370" cy="1051.1" r="4.25"/><circle class="c8" cx="312.4" cy="1023.6" r="4.25"/><circle class="c8" cx="329.6" cy="1036.6" r="4.25"/><circle class="c8" cx="371.6" cy="1053.7" r="4.25"/><circle class="c7" cx="301" cy="1016.4" r="4.25"/><circle class="c7" cx="335.8" cy="1038.1" r="4.25"/><circle class="c7" cx="348.7" cy="1047" r="4.25"/><circle class="c7" cx="376.7" cy="1054.7" r="4.25"/><circle class="c4" cx="306.2" cy="1031.9" r="4.25"/><circle class="c4" cx="303.1" cy="1025.7" r="4.25"/><circle class="c4" cx="309.3" cy="1038.1" r="4.25"/><circle class="c4" cx="317.6" cy="1039.2" r="4.25"/><circle class="c4" cx="306.2" cy="1050.6" r="4.25"/><circle class="c4" cx="324.9" cy="1049.6" r="4.25"/><circle class="c4" cx="329" cy="1053.7" r="4.25"/><circle class="c4" cx="320.7" cy="1043.3" r="4.25"/><circle class="c4" cx="345.6" cy="1049.6" r="4.25"/><circle class="c4" cx="336.3" cy="1052.7" r="4.25"/><circle class="c3" cx="301" cy="1036.1" r="4.25"/><circle class="c5" cx="303.6" cy="1021.6" r="4.25"/><circle class="c5" cx="321.8" cy="1031.9" r="4.25"/><circle class="c5" cx="329.6" cy="1035" r="4.25"/><circle class="c5" cx="324.4" cy="1039.2" r="4.25"/><circle class="c5" cx="361.2" cy="1055.8" r="4.25"/><circle class="c5" cx="376.2" cy="1059.4" r="4.25"/><circle class="c5" cx="363.3" cy="1060.4" r="4.25"/><circle class="c5" cx="378.8" cy="1056.8" r="4.25"/><circle class="c6" cx="314.5" cy="1028.3" r="4.25"/><circle class="c6" cx="331.6" cy="1045.4" r="4.25"/><circle class="c6" cx="341.5" cy="1043.9" r="4.25"/><circle class="c6" cx="384.5" cy="1059.9" r="4.25"/><circle class="c2" cx="302.1" cy="1044.4" r="4.25"/><circle class="c2" cx="318.7" cy="1053.7" r="4.25"/><circle class="c2" cx="349.8" cy="1058.9" r="4.25"/><circle class="c2" cx="358.1" cy="1062" r="4.25"/><circle class="c2" cx="365.3" cy="1051.1" r="4.25"/><circle class="c2" cx="341.5" cy="1057.9" r="4.25"/><circle class="c1" cx="313.5" cy="1038.1" r="4.25"/><circle class="c1" cx="312.4" cy="1048.5" r="4.25"/><circle class="c1" cx="316.6" cy="1048" r="4.25"/><circle class="c1" cx="353.9" cy="1054.7" r="4.25"/><circle class="c1" cx="367.9" cy="1053.7" r="4.25"/><circle class="c1" cx="383.5" cy="1064.1" r="4.25"/><circle class="c1" cx="339.4" cy="1054.7" r="4.25"/><circle class="c0" cx="340.4" cy="1048" r="4.25"/><circle class="c0" cx="345.1" cy="1054.2" r="4.25"/><circle class="c0" cx="355" cy="1049.6" r="4.25"/><circle class="c0" cx="359.1" cy="1049.6" r="4.25"/><circle class="c0" cx="370.5" cy="1062" r="4.25"/><circle class="c0" cx="377.8" cy="1064.1" r="4.25"/><circle class="c0" cx="344.6" cy="1061.5" r="4.25"/><circle class="c0" cx="352.9" cy="1062.5" r="4.25"/><circle class="c1" cx="108.4" cy="1075.6" r="4.25"/></g>
<text class="t" x="108.8" y="1111.2" text-anchor="middle">0</text>
<text class="t" x="99.7" y="1085.6" text-anchor="end">0</text>
<text class="t" x="210.2" y="1111.2" text-anchor="middle">500</text>
<text class="t" x="99.7" y="991" text-anchor="end">500</text>
<text class="t" x="311.6" y="1111.2" text-anchor="middle">1000</text>
<text class="t" x="99.7" y="896.4" text-anchor="end">1000</text>
<text class="t" x="413.1" y="1111.2" text-anchor="middle">1500</text>
<text class="t" x="99.7" y="801.9" text-anchor="end">1500</text>
<text class="t" x="514.5" y="1111.2" text-anchor="middle">2000</text>
<text class="t" x="99.7" y="707.3" text-anchor="end">2000</text>
<text class="l" x="311.1" y="1148.2" text-anchor="middle">RMSE between Iage and B-A age</text>
<text class="l" transform="translate(23.8 886.4) rotate(-90)" text-anchor="middle">RMSE between Iage and BwP age</text>
<text class="g" x="134.7" y="726.2">(c)</text>
<rect class="c0" x="556.1" y="1037.8" width="18.9" height="38.1"/>
<rect class="c1" x="556.1" y="999.9" width="18.9" height="38.1"/>
<rect class="c2" x="556.1" y="962.1" width="18.9" height="38.1"/>
<rect class="c3" x="556.1" y="924.3" width="18.9" height="38.1"/>
<rect class="c4" x="556.1" y="886.4" width="18.9" height="38.1"/>
<rect class="c5" x="556.1" y="848.6" width="18.9" height="38.1"/>
<rect class="c6" x="556.1" y="810.8" width="18.9" height="38.1"/>
<rect class="c7" x="556.1" y="773" width="18.9" height="38.1"/>
<rect class="c8" x="556.1" y="735.1" width="18.9" height="38.1"/>
<rect class="c9" x="556.1" y="697.3" width="18.9" height="38.1"/>
<rect x="556.1" y="697.3" width="18.9" height="378.3" fill="none" stroke="#262626" stroke-width="0.8" stroke-opacity="0.75"/>
<text class="t" x="583.1" y="1086" textLength="58.7" lengthAdjust="spacingAndGlyphs">1000</text>
<text class="t" x="583.1" y="1010.3" textLength="58.7" lengthAdjust="spacingAndGlyphs">1800</text>
<path d="M575 999.9h-3.4" stroke="#262626" stroke-width="0.8"/>
<text class="t" x="583.1" y="934.7" textLength="58.7" lengthAdjust="spacingAndGlyphs">2600</text>
<path d="M575 924.3h-3.4" stroke="#262626" stroke-width="0.8"/>
<text class="t" x="583.1" y="859" textLength="58.7" lengthAdjust="spacingAndGlyphs">3400</text>
<path d="M575 848.6h-3.4" stroke="#262626" stroke-width="0.8"/>
<text class="t" x="583.1" y="783.4" textLength="58.7" lengthAdjust="spacingAndGlyphs">4200</text>
<path d="M575 773h-3.4" stroke="#262626" stroke-width="0.8"/>
<text class="t" x="583.1" y="707.7" textLength="58.7" lengthAdjust="spacingAndGlyphs">5000</text>
<text class="m" x="566.7" y="682.1" text-anchor="middle">(m)</text>
</g>
<g id="panel-d">
<path d="M802.5 693.1H1251M802.5 1071.3H1251" stroke="#262626" stroke-width="4.9" fill="none"/>
<path d="M805.2 693.1V1071.3M1248.2 693.1V1071.3" stroke="#262626" stroke-width="5.5" fill="none"/>
<path d="M916 1071.3v-6.4M916 693.1v6.4M805.2 787.6h6.4M1248.2 787.6h-6.4M1026.7 1071.3v-6.4M1026.7 693.1v6.4M805.2 882.2h6.4M1248.2 882.2h-6.4M1137.5 1071.3v-6.4M1137.5 693.1v6.4M805.2 976.8h6.4M1248.2 976.8h-6.4" stroke="#262626" stroke-width="5.1" fill="none"/>
<line x1="805.2" y1="882.2" x2="1248.2" y2="882.2" stroke="#000" stroke-width="2.5" stroke-dasharray="9.7 9.22" stroke-dashoffset="0.5"/>
<line x1="1026.7" y1="1071.3" x2="1026.7" y2="693.1" stroke="#000" stroke-width="2.5" stroke-dasharray="9.3 9.6" stroke-dashoffset="0.5"/>
<g class="dots"><circle class="c0" cx="885.3" cy="721.9" r="4.05"/><circle class="c0" cx="878.8" cy="733.5" r="4.05"/><circle class="c0" cx="889" cy="730.9" r="4.05"/><circle class="c0" cx="867.9" cy="737.8" r="4.05"/><circle class="c0" cx="873.2" cy="739.8" r="4.05"/><circle class="c0" cx="883" cy="740.8" r="4.05"/><circle class="c0" cx="895" cy="737.5" r="4.05"/><circle class="c0" cx="860.7" cy="749" r="4.05"/><circle class="c0" cx="867.2" cy="746.1" r="4.05"/><circle class="c0" cx="880" cy="747.9" r="4.05"/><circle class="c0" cx="887.8" cy="747.7" r="4.05"/><circle class="c0" cx="897.6" cy="745.8" r="4.05"/><circle class="c0" cx="858" cy="755.9" r="4.05"/><circle class="c0" cx="864.4" cy="754.6" r="4.05"/><circle class="c0" cx="872.9" cy="756" r="4.05"/><circle class="c0" cx="882.9" cy="753.7" r="4.05"/><circle class="c0" cx="890.4" cy="757.5" r="4.05"/><circle class="c0" cx="850.5" cy="762.9" r="4.05"/><circle class="c0" cx="862.7" cy="764.1" r="4.05"/><circle class="c0" cx="867.1" cy="764.9" r="4.05"/><circle class="c0" cx="876.5" cy="762.5" r="4.05"/><circle class="c0" cx="887.1" cy="765.7" r="4.05"/><circle class="c0" cx="849.5" cy="772.6" r="4.05"/><circle class="c0" cx="855.3" cy="770.8" r="4.05"/><circle class="c0" cx="862.6" cy="772.3" r="4.05"/><circle class="c0" cx="874.2" cy="769.5" r="4.05"/><circle class="c0" cx="886" cy="769" r="4.05"/><circle class="c0" cx="854.2" cy="781.7" r="4.05"/><circle class="c0" cx="858.8" cy="779.4" r="4.05"/><circle class="c0" cx="870.7" cy="778.8" r="4.05"/><circle class="c0" cx="876.6" cy="781.4" r="4.05"/><circle class="c0" cx="846.9" cy="787.3" r="4.05"/><circle class="c0" cx="857.7" cy="787.8" r="4.05"/><circle class="c0" cx="864.5" cy="788.5" r="4.05"/><circle class="c0" cx="850.3" cy="793.7" r="4.05"/><circle class="c0" cx="859.6" cy="796.5" r="4.05"/><circle class="c0" cx="868.1" cy="796.1" r="4.05"/><circle class="c0" cx="848.4" cy="804" r="4.05"/><circle class="c0" cx="856.7" cy="802.9" r="4.05"/><circle class="c0" cx="867.2" cy="800.3" r="4.05"/><circle class="c0" cx="873.3" cy="802.7" r="4.05"/><circle class="c0" cx="947" cy="712.7" r="4.05"/><circle class="c0" cx="958.2" cy="713" r="4.05"/><circle class="c0" cx="964" cy="710.5" r="4.05"/><circle class="c0" cx="943.5" cy="719.7" r="4.05"/><circle class="c0" cx="955.3" cy="720.8" r="4.05"/><circle class="c0" cx="963.7" cy="718.4" r="4.05"/><circle class="c0" cx="942" cy="726.5" r="4.05"/><circle class="c0" cx="947.8" cy="728" r="4.05"/><circle class="c0" cx="957.3" cy="724.3" r="4.05"/><circle class="c0" cx="964.1" cy="725.2" r="4.05"/><circle class="c0" cx="959.8" cy="732.5" r="4.05"/><circle class="c1" cx="856.4" cy="750.7" r="4.05"/><circle class="c1" cx="866.9" cy="746.1" r="4.05"/><circle class="c1" cx="882.8" cy="747.9" r="4.05"/><circle class="c1" cx="889.9" cy="748.1" r="4.05"/><circle class="c1" cx="860.4" cy="760" r="4.05"/><circle class="c1" cx="876.1" cy="760" r="4.05"/><circle class="c1" cx="884.9" cy="757.4" r="4.05"/><circle class="c1" cx="853.5" cy="769.6" r="4.05"/><circle class="c1" cx="865.3" cy="771.8" r="4.05"/><circle class="c1" cx="877" cy="769.7" r="4.05"/><circle class="c1" cx="859.7" cy="777" r="4.05"/><circle class="c1" cx="871.6" cy="780.4" r="4.05"/><circle class="c1" cx="854.3" cy="792.8" r="4.05"/><circle class="c1" cx="868.9" cy="787.1" r="4.05"/><circle class="c1" cx="880" cy="787.3" r="4.05"/><circle class="c0" cx="852.3" cy="726.3" r="4.05"/><circle class="c0" cx="904.7" cy="714.9" r="4.05"/><circle class="c0" cx="910.4" cy="716.4" r="4.05"/><circle class="c0" cx="887" cy="719" r="4.05"/><circle class="c0" cx="889.1" cy="723.2" r="4.05"/><circle class="c0" cx="891.2" cy="726.8" r="4.05"/><circle class="c0" cx="886" cy="731.5" r="4.05"/><circle class="c0" cx="890.1" cy="733.6" r="4.05"/><circle class="c0" cx="895.9" cy="734.1" r="4.05"/><circle class="c0" cx="858" cy="740.8" r="4.05"/><circle class="c0" cx="865.8" cy="743.9" r="4.05"/><circle class="c0" cx="873" cy="740.3" r="4.05"/><circle class="c0" cx="876.7" cy="746" r="4.05"/><circle class="c0" cx="886.5" cy="739.8" r="4.05"/><circle class="c0" cx="889.1" cy="745" r="4.05"/><circle class="c0" cx="897.4" cy="748.1" r="4.05"/><circle class="c0" cx="905.2" cy="752.2" r="4.05"/><circle class="c0" cx="890.7" cy="751.2" r="4.05"/><circle class="c0" cx="898.4" cy="760.5" r="4.05"/><circle class="c0" cx="848.1" cy="759.5" r="4.05"/><circle class="c0" cx="852.3" cy="757.4" r="4.05"/><circle class="c0" cx="860.1" cy="754.8" r="4.05"/><circle class="c0" cx="846.6" cy="766.7" r="4.05"/><circle class="c0" cx="850.7" cy="768.8" r="4.05"/><circle class="c0" cx="854.9" cy="771.9" r="4.05"/><circle class="c0" cx="860.1" cy="768.8" r="4.05"/><circle class="c0" cx="861.1" cy="774" r="4.05"/><circle class="c0" cx="866.3" cy="776.1" r="4.05"/><circle class="c0" cx="848.7" cy="778.1" r="4.05"/><circle class="c0" cx="853.9" cy="778.1" r="4.05"/><circle class="c0" cx="860.1" cy="778.1" r="4.05"/><circle class="c0" cx="871.5" cy="776.1" r="4.05"/><circle class="c0" cx="875.6" cy="779.2" r="4.05"/><circle class="c0" cx="906.2" cy="779.7" r="4.05"/><circle class="c0" cx="879.8" cy="792.1" r="4.05"/><circle class="c0" cx="883.9" cy="792.1" r="4.05"/><circle class="c0" cx="855.9" cy="785.4" r="4.05"/><circle class="c0" cx="860.1" cy="787.5" r="4.05"/><circle class="c0" cx="847.1" cy="795.8" r="4.05"/><circle class="c0" cx="849.7" cy="803" r="4.05"/><circle class="c0" cx="859" cy="806.1" r="4.05"/><circle class="c0" cx="870.4" cy="805.1" r="4.05"/><circle class="c0" cx="850.7" cy="793.7" r="4.05"/><circle class="c0" cx="938.9" cy="711.8" r="4.05"/><circle class="c0" cx="947.2" cy="714.9" r="4.05"/><circle class="c0" cx="920.2" cy="720.6" r="4.05"/><circle class="c0" cx="918.7" cy="725.8" r="4.05"/><circle class="c0" cx="913.5" cy="733.6" r="4.05"/><circle class="c0" cx="924.9" cy="737.7" r="4.05"/><circle class="c0" cx="943" cy="727.3" r="4.05"/><circle class="c0" cx="949.3" cy="728.4" r="4.05"/><circle class="c0" cx="955.5" cy="732.5" r="4.05"/><circle class="c0" cx="962.7" cy="736.7" r="4.05"/><circle class="c0" cx="960.7" cy="723.2" r="4.05"/><circle class="c0" cx="965.9" cy="724.2" r="4.05"/><circle class="c0" cx="969" cy="705.6" r="4.05"/><circle class="c0" cx="969" cy="728.4" r="4.05"/><circle class="c0" cx="933.7" cy="730.4" r="4.05"/><circle class="c0" cx="930.6" cy="759" r="4.05"/><circle class="c0" cx="895.3" cy="805.1" r="4.05"/><circle class="c0" cx="879.8" cy="764.7" r="4.05"/><circle class="c0" cx="883.9" cy="761.6" r="4.05"/><circle class="c0" cx="875.6" cy="754.3" r="4.05"/><circle class="c0" cx="864.2" cy="750.1" r="4.05"/><circle class="c0" cx="944.1" cy="733.6" r="4.05"/><circle class="c0" cx="952.4" cy="724.2" r="4.05"/><circle class="c1" cx="919.7" cy="713.9" r="4.05"/><circle class="c1" cx="900.5" cy="722.1" r="4.05"/><circle class="c1" cx="904.7" cy="724.2" r="4.05"/><circle class="c1" cx="944.1" cy="711.3" r="4.05"/><circle class="c1" cx="956" cy="711.8" r="4.05"/><circle class="c1" cx="964.3" cy="713.9" r="4.05"/><circle class="c1" cx="927.5" cy="721.1" r="4.05"/><circle class="c1" cx="881.3" cy="728.9" r="4.05"/><circle class="c1" cx="851.3" cy="751.2" r="4.05"/><circle class="c1" cx="883.9" cy="749.1" r="4.05"/><circle class="c1" cx="917.1" cy="736.7" r="4.05"/><circle class="c1" cx="946.1" cy="740.8" r="4.05"/><circle class="c1" cx="958.1" cy="745.5" r="4.05"/><circle class="c1" cx="924.4" cy="754.3" r="4.05"/><circle class="c1" cx="889.1" cy="758.4" r="4.05"/><circle class="c1" cx="866.3" cy="757.4" r="4.05"/><circle class="c1" cx="871.5" cy="754.3" r="4.05"/><circle class="c1" cx="867.3" cy="767.8" r="4.05"/><circle class="c1" cx="869.4" cy="771.9" r="4.05"/><circle class="c1" cx="875.6" cy="768.8" r="4.05"/><circle class="c1" cx="887.6" cy="774" r="4.05"/><circle class="c1" cx="915" cy="775.6" r="4.05"/><circle class="c1" cx="935.8" cy="764.7" r="4.05"/><circle class="c1" cx="937.9" cy="769.9" r="4.05"/><circle class="c1" cx="932.7" cy="762.6" r="4.05"/><circle class="c1" cx="943" cy="753.3" r="4.05"/><circle class="c1" cx="945.1" cy="758.4" r="4.05"/><circle class="c1" cx="961.7" cy="762.6" r="4.05"/><circle class="c1" cx="969" cy="749.1" r="4.05"/><circle class="c1" cx="853.3" cy="782.3" r="4.05"/><circle class="c1" cx="858" cy="792.7" r="4.05"/><circle class="c1" cx="863.2" cy="794.7" r="4.05"/><circle class="c1" cx="871.5" cy="789.6" r="4.05"/><circle class="c1" cx="871.5" cy="795.8" r="4.05"/><circle class="c1" cx="873.6" cy="803" r="4.05"/><circle class="c1" cx="900.5" cy="795.8" r="4.05"/><circle class="c1" cx="853.9" cy="799.9" r="4.05"/><circle class="c1" cx="945.1" cy="798.4" r="4.05"/><circle class="c1" cx="931.6" cy="801.5" r="4.05"/><circle class="c1" cx="958.6" cy="788.5" r="4.05"/><circle class="c1" cx="962.7" cy="774" r="4.05"/><circle class="c2" cx="879.8" cy="733.6" r="4.05"/><circle class="c2" cx="872" cy="747.6" r="4.05"/><circle class="c2" cx="891.2" cy="738.7" r="4.05"/><circle class="c2" cx="904.7" cy="748.1" r="4.05"/><circle class="c2" cx="910.9" cy="736.7" r="4.05"/><circle class="c2" cx="925.4" cy="745.5" r="4.05"/><circle class="c2" cx="911.9" cy="759" r="4.05"/><circle class="c2" cx="861.1" cy="759" r="4.05"/><circle class="c2" cx="875.6" cy="761.6" r="4.05"/><circle class="c2" cx="888.6" cy="766.7" r="4.05"/><circle class="c2" cx="871" cy="784.9" r="4.05"/><circle class="c2" cx="892.2" cy="790.1" r="4.05"/><circle class="c2" cx="937.3" cy="803.6" r="4.05"/><circle class="c2" cx="944.1" cy="785.4" r="4.05"/><circle class="c2" cx="949.3" cy="783.3" r="4.05"/><circle class="c2" cx="953.4" cy="804.1" r="4.05"/><circle class="c2" cx="962.7" cy="803.6" r="4.05"/><circle class="c2" cx="958.6" cy="807.2" r="4.05"/><circle class="c2" cx="967.9" cy="781.3" r="4.05"/><circle class="c2" cx="969" cy="789.6" r="4.05"/><circle class="c2" cx="890.1" cy="808.2" r="4.05"/><circle class="c2" cx="898.4" cy="809.3" r="4.05"/><circle class="c2" cx="909.9" cy="804.1" r="4.05"/><circle class="c2" cx="916.1" cy="808.2" r="4.05"/><circle class="c3" cx="900" cy="740.3" r="4.05"/><circle class="c3" cx="909.9" cy="739.3" r="4.05"/><circle class="c3" cx="884.4" cy="753.8" r="4.05"/><circle class="c3" cx="880.3" cy="776.6" r="4.05"/><circle class="c3" cx="935.8" cy="746" r="4.05"/><circle class="c3" cx="933.7" cy="737.7" r="4.05"/><circle class="c3" cx="924.9" cy="778.1" r="4.05"/><circle class="c3" cx="954.4" cy="777.1" r="4.05"/><circle class="c3" cx="959.6" cy="779.2" r="4.05"/><circle class="c3" cx="892.2" cy="797.9" r="4.05"/><circle class="c3" cx="935.3" cy="795.8" r="4.05"/><circle class="c3" cx="929.6" cy="794.7" r="4.05"/><circle class="c3" cx="949.3" cy="789.6" r="4.05"/><circle class="c3" cx="924.9" cy="807.2" r="4.05"/><circle class="c3" cx="932.7" cy="720.1" r="4.05"/><circle class="c3" cx="876.7" cy="794.7" r="4.05"/><circle class="c4" cx="939.9" cy="718.5" r="4.05"/><circle class="c4" cx="957.6" cy="717" r="4.05"/><circle class="c4" cx="956.5" cy="722.1" r="4.05"/><circle class="c4" cx="908.3" cy="726.8" r="4.05"/><circle class="c4" cx="920.2" cy="730.4" r="4.05"/><circle class="c4" cx="926.4" cy="732.5" r="4.05"/><circle class="c4" cx="935.8" cy="729.4" r="4.05"/><circle class="c4" cx="911.4" cy="743.9" r="4.05"/><circle class="c4" cx="934.7" cy="740.8" r="4.05"/><circle class="c4" cx="899" cy="754.3" r="4.05"/><circle class="c4" cx="945.1" cy="750.7" r="4.05"/><circle class="c4" cx="953.4" cy="756.9" r="4.05"/><circle class="c4" cx="966.9" cy="753.3" r="4.05"/><circle class="c4" cx="897.9" cy="767.8" r="4.05"/><circle class="c4" cx="904.1" cy="768.8" r="4.05"/><circle class="c4" cx="893.3" cy="770.9" r="4.05"/><circle class="c4" cx="953.9" cy="765.7" r="4.05"/><circle class="c4" cx="933.7" cy="775.6" r="4.05"/><circle class="c4" cx="937.9" cy="778.1" r="4.05"/><circle class="c4" cx="943.6" cy="772.4" r="4.05"/><circle class="c4" cx="920.2" cy="783.9" r="4.05"/><circle class="c4" cx="923.3" cy="789.6" r="4.05"/><circle class="c4" cx="928.5" cy="790.6" r="4.05"/><circle class="c4" cx="917.1" cy="791.1" r="4.05"/><circle class="c4" cx="901" cy="802" r="4.05"/><circle class="c4" cx="911.9" cy="801.5" r="4.05"/><circle class="c4" cx="916.1" cy="799.9" r="4.05"/><circle class="c4" cx="921.3" cy="798.9" r="4.05"/><circle class="c4" cx="954.4" cy="773" r="4.05"/><circle class="c4" cx="965.9" cy="767.8" r="4.05"/><circle class="c5" cx="953.4" cy="712.3" r="4.05"/><circle class="c5" cx="958.1" cy="712.3" r="4.05"/><circle class="c5" cx="931.6" cy="719" r="4.05"/><circle class="c5" cx="928.5" cy="725.8" r="4.05"/><circle class="c5" cx="934.7" cy="733.6" r="4.05"/><circle class="c5" cx="960.1" cy="751.2" r="4.05"/><circle class="c5" cx="924.9" cy="761.6" r="4.05"/><circle class="c5" cx="909.9" cy="768.8" r="4.05"/><circle class="c5" cx="902.6" cy="774" r="4.05"/><circle class="c5" cx="899.5" cy="780.7" r="4.05"/><circle class="c5" cx="892.2" cy="784.9" r="4.05"/><circle class="c5" cx="934.7" cy="788" r="4.05"/><circle class="c5" cx="953.4" cy="789" r="4.05"/><circle class="c7" cx="1082.1" cy="701.8" r="4.05"/><circle class="c7" cx="1073.1" cy="704.9" r="4.05"/><circle class="c7" cx="1077.7" cy="705" r="4.05"/><circle class="c7" cx="1091.1" cy="705.7" r="4.05"/><circle class="c7" cx="1097.8" cy="705.4" r="4.05"/><circle class="c7" cx="1107.4" cy="705.7" r="4.05"/><circle class="c5" cx="1007.3" cy="710.3" r="4.05"/><circle class="c5" cx="1014.8" cy="711" r="4.05"/><circle class="c5" cx="1021.5" cy="709.5" r="4.05"/><circle class="c5" cx="1030.4" cy="710.4" r="4.05"/><circle class="c5" cx="1042.9" cy="709.2" r="4.05"/><circle class="c5" cx="1050.8" cy="710.5" r="4.05"/><circle class="c5" cx="1010" cy="715.4" r="4.05"/><circle class="c5" cx="1021.2" cy="720.2" r="4.05"/><circle class="c5" cx="1025.8" cy="715.7" r="4.05"/><circle class="c5" cx="1036.7" cy="718.2" r="4.05"/><circle class="c5" cx="1042.5" cy="718.6" r="4.05"/><circle class="c5" cx="1051.9" cy="717.5" r="4.05"/><circle class="c5" cx="1023.1" cy="722.6" r="4.05"/><circle class="c5" cx="1032.3" cy="723.1" r="4.05"/><circle class="c5" cx="1039.1" cy="724.3" r="4.05"/><circle class="c4" cx="1015.6" cy="737.7" r="4.05"/><circle class="c4" cx="1021.8" cy="740.9" r="4.05"/><circle class="c4" cx="1031.2" cy="737" r="4.05"/><circle class="c4" cx="988.2" cy="746.6" r="4.05"/><circle class="c4" cx="995.3" cy="746.5" r="4.05"/><circle class="c4" cx="1005.4" cy="745.9" r="4.05"/><circle class="c4" cx="1011.9" cy="745.9" r="4.05"/><circle class="c4" cx="976.2" cy="751" r="4.05"/><circle class="c0" cx="1072.4" cy="712.5" r="4.05"/><circle class="c0" cx="1077.9" cy="717.5" r="4.05"/><circle class="c2" cx="999" cy="712.8" r="4.05"/><circle class="c2" cx="1011" cy="714.9" r="4.05"/><circle class="c2" cx="1074.7" cy="736.7" r="4.05"/><circle class="c2" cx="1075.8" cy="739.8" r="4.05"/><circle class="c2" cx="1060" cy="751.2" r="4.05"/><circle class="c2" cx="1032.5" cy="753.3" r="4.05"/><circle class="c2" cx="975.2" cy="756.4" r="4.05"/><circle class="c2" cx="979.9" cy="758.4" r="4.05"/><circle class="c2" cx="984.5" cy="761.6" r="4.05"/><circle class="c2" cx="990.7" cy="760.5" r="4.05"/><circle class="c2" cx="976.7" cy="775" r="4.05"/><circle class="c2" cx="981.4" cy="782.3" r="4.05"/><circle class="c2" cx="972.6" cy="787" r="4.05"/><circle class="c2" cx="979.3" cy="789" r="4.05"/><circle class="c2" cx="989.7" cy="788.5" r="4.05"/><circle class="c2" cx="970.5" cy="792.7" r="4.05"/><circle class="c2" cx="977.8" cy="764.7" r="4.05"/><circle class="c2" cx="1024.4" cy="762.6" r="4.05"/><circle class="c2" cx="1079.4" cy="808.2" r="4.05"/><circle class="c2" cx="1100.7" cy="786.4" r="4.05"/><circle class="c2" cx="1006.3" cy="754.3" r="4.05"/><circle class="c4" cx="998.5" cy="705.6" r="4.05"/><circle class="c4" cx="984" cy="709.7" r="4.05"/><circle class="c4" cx="985.6" cy="713.9" r="4.05"/><circle class="c4" cx="1036.4" cy="706.6" r="4.05"/><circle class="c4" cx="1039.5" cy="711.3" r="4.05"/><circle class="c4" cx="1095.5" cy="721.1" r="4.05"/><circle class="c4" cx="1107.9" cy="719.6" r="4.05"/><circle class="c4" cx="1086.1" cy="723.7" r="4.05"/><circle class="c4" cx="1070.1" cy="726.3" r="4.05"/><circle class="c4" cx="1067.5" cy="737.7" r="4.05"/><circle class="c4" cx="1031.2" cy="735.6" r="4.05"/><circle class="c4" cx="1032.2" cy="739.8" r="4.05"/><circle class="c4" cx="1026" cy="741.9" r="4.05"/><circle class="c4" cx="1015.6" cy="742.9" r="4.05"/><circle class="c4" cx="1019.8" cy="743.9" r="4.05"/><circle class="c4" cx="992.8" cy="748.1" r="4.05"/><circle class="c4" cx="981.9" cy="749.6" r="4.05"/><circle class="c4" cx="997" cy="751.2" r="4.05"/><circle class="c4" cx="977.3" cy="752.2" r="4.05"/><circle class="c4" cx="1008.4" cy="748.1" r="4.05"/><circle class="c4" cx="984" cy="767.8" r="4.05"/><circle class="c4" cx="1005.3" cy="774.5" r="4.05"/><circle class="c4" cx="1006.8" cy="780.2" r="4.05"/><circle class="c4" cx="1032" cy="777.9" r="4.05"/><circle class="c4" cx="1040" cy="779.2" r="4.05"/><circle class="c4" cx="1047.8" cy="705.6" r="4.05"/><circle class="c4" cx="999" cy="743.9" r="4.05"/><circle class="c3" cx="978.3" cy="718" r="4.05"/><circle class="c3" cx="1031.2" cy="731.5" r="4.05"/><circle class="c3" cx="1015.6" cy="737.2" r="4.05"/><circle class="c3" cx="1003.2" cy="741.3" r="4.05"/><circle class="c3" cx="1006.3" cy="743.9" r="4.05"/><circle class="c3" cx="1007.3" cy="739.8" r="4.05"/><circle class="c3" cx="989.7" cy="753.3" r="4.05"/><circle class="c3" cx="972.1" cy="763.6" r="4.05"/><circle class="c3" cx="974.1" cy="769.3" r="4.05"/><circle class="c3" cx="983.8" cy="796" r="4.05"/><circle class="c5" cx="1064.2" cy="701.9" r="4.05"/><circle class="c5" cx="973.6" cy="713.3" r="4.05"/><circle class="c5" cx="989.2" cy="712.3" r="4.05"/><circle class="c5" cx="1003.2" cy="709.7" r="4.05"/><circle class="c5" cx="1021.9" cy="707.1" r="4.05"/><circle class="c5" cx="1030.7" cy="706.1" r="4.05"/><circle class="c5" cx="1032.2" cy="711.3" r="4.05"/><circle class="c5" cx="1026.5" cy="714.9" r="4.05"/><circle class="c5" cx="1050.9" cy="714.9" r="4.05"/><circle class="c5" cx="1051.9" cy="717.5" r="4.05"/><circle class="c5" cx="1020.8" cy="720.1" r="4.05"/><circle class="c5" cx="1100.7" cy="708.1" r="4.05"/><circle class="c5" cx="1099.6" cy="714.4" r="4.05"/><circle class="c5" cx="1068" cy="719.6" r="4.05"/><circle class="c5" cx="978.3" cy="731.5" r="4.05"/><circle class="c5" cx="982.4" cy="731" r="4.05"/><circle class="c5" cx="1026.5" cy="728.4" r="4.05"/><circle class="c5" cx="1021.9" cy="731.5" r="4.05"/><circle class="c5" cx="1074.7" cy="726.8" r="4.05"/><circle class="c5" cx="1068.5" cy="731.5" r="4.05"/><circle class="c5" cx="1053" cy="732.5" r="4.05"/><circle class="c5" cx="974.7" cy="746.5" r="4.05"/><circle class="c5" cx="1022.4" cy="740.3" r="4.05"/><circle class="c5" cx="1088.2" cy="725.3" r="4.05"/><circle class="c5" cx="1037.4" cy="734.6" r="4.05"/><circle class="c5" cx="988.7" cy="747" r="4.05"/><circle class="c5" cx="1009.4" cy="751.2" r="4.05"/><circle class="c7" cx="1033.8" cy="702.4" r="4.05"/><circle class="c7" cx="1042.1" cy="703.5" r="4.05"/><circle class="c7" cx="1072.1" cy="702.4" r="4.05"/><circle class="c7" cx="1078.9" cy="703" r="4.05"/><circle class="c7" cx="1099.1" cy="702.4" r="4.05"/><circle class="c7" cx="1104.8" cy="705" r="4.05"/><circle class="c7" cx="1087.2" cy="703.5" r="4.05"/><circle class="c7" cx="993.3" cy="708.7" r="4.05"/><circle class="c7" cx="1016.1" cy="708.1" r="4.05"/><circle class="c7" cx="1092.4" cy="705.6" r="4.05"/><circle class="c6" cx="991.8" cy="707.1" r="4.05"/><circle class="c6" cx="1007.3" cy="705" r="4.05"/><circle class="c6" cx="1051.4" cy="706.6" r="4.05"/><circle class="c6" cx="1082" cy="698.8" r="4.05"/><circle class="c6" cx="1086.1" cy="700.4" r="4.05"/><circle class="c6" cx="1078.9" cy="709.2" r="4.05"/><circle class="c6" cx="1087.2" cy="708.1" r="4.05"/><circle class="c6" cx="1013.6" cy="724.2" r="4.05"/><circle class="c6" cx="1023.9" cy="724.2" r="4.05"/><circle class="c6" cx="1047.3" cy="723.2" r="4.05"/><circle class="c6" cx="1057.1" cy="723.7" r="4.05"/><circle class="c6" cx="1101.2" cy="720.6" r="4.05"/><circle class="c1" cx="1104.8" cy="728.2" r="4.05"/><circle class="c1" cx="1011.5" cy="761.6" r="4.05"/><circle class="c1" cx="1041" cy="743.9" r="4.05"/><circle class="c1" cx="1039.5" cy="776.1" r="4.05"/><circle class="c1" cx="1011.3" cy="784.2" r="4.05"/><circle class="c1" cx="1044.7" cy="784.4" r="4.05"/><circle class="c1" cx="1021.3" cy="789.2" r="4.05"/><circle class="c1" cx="1005.1" cy="797.3" r="4.05"/><circle class="c1" cx="1098.6" cy="772.4" r="4.05"/><circle class="c1" cx="1079.4" cy="791.4" r="4.05"/><circle class="c1" cx="1052.4" cy="804.6" r="4.05"/><circle class="c1" cx="1020.1" cy="806.1" r="4.05"/><circle class="c1" cx="1085.1" cy="805.1" r="4.05"/><circle class="c1" cx="1071.1" cy="808.2" r="4.05"/><circle class="c1" cx="991.8" cy="792.7" r="4.05"/><circle class="c1" cx="985.6" cy="788.5" r="4.05"/><circle class="c0" cx="971" cy="706.1" r="4.05"/><circle class="c0" cx="977.8" cy="705" r="4.05"/><circle class="c0" cx="982.4" cy="706.1" r="4.05"/><circle class="c0" cx="987.1" cy="720.6" r="4.05"/><circle class="c0" cx="991.3" cy="720.6" r="4.05"/><circle class="c0" cx="999.6" cy="718" r="4.05"/><circle class="c0" cx="999" cy="723.2" r="4.05"/><circle class="c0" cx="973.6" cy="725.3" r="4.05"/><circle class="c0" cx="971" cy="730.4" r="4.05"/><circle class="c0" cx="994.4" cy="729.9" r="4.05"/><circle class="c0" cx="1020.3" cy="716.4" r="4.05"/><circle class="c0" cx="1008.4" cy="733" r="4.05"/><circle class="c0" cx="1019.3" cy="734.6" r="4.05"/><circle class="c0" cx="1039" cy="729.2" r="4.05"/><circle class="c0" cx="1047.8" cy="728.9" r="4.05"/><circle class="c0" cx="1053" cy="728.4" r="4.05"/><circle class="c0" cx="1060.7" cy="732.5" r="4.05"/><circle class="c0" cx="1044.1" cy="736.1" r="4.05"/><circle class="c0" cx="1048.8" cy="736.1" r="4.05"/><circle class="c0" cx="1041.6" cy="741.3" r="4.05"/><circle class="c0" cx="1047.3" cy="746" r="4.05"/><circle class="c0" cx="1049.9" cy="748.1" r="4.05"/><circle class="c0" cx="986.6" cy="742.4" r="4.05"/><circle class="c0" cx="1021.3" cy="752.2" r="4.05"/><circle class="c0" cx="1003.7" cy="755.3" r="4.05"/><circle class="c0" cx="995.9" cy="759" r="4.05"/><circle class="c0" cx="1005.8" cy="762.6" r="4.05"/><circle class="c0" cx="1018.7" cy="760" r="4.05"/><circle class="c0" cx="1039.5" cy="755.1" r="4.05"/><circle class="c0" cx="1050.4" cy="758.1" r="4.05"/><circle class="c0" cx="1031.7" cy="761.6" r="4.05"/><circle class="c0" cx="1027" cy="765.7" r="4.05"/><circle class="c0" cx="1029.6" cy="773" r="4.05"/><circle class="c0" cx="1023.9" cy="780.2" r="4.05"/><circle class="c0" cx="1025.5" cy="796.8" r="4.05"/><circle class="c0" cx="1043.6" cy="793.7" r="4.05"/><circle class="c0" cx="1056.3" cy="776.1" r="4.05"/><circle class="c0" cx="1068" cy="755.5" r="4.05"/><circle class="c0" cx="1061.3" cy="764.1" r="4.05"/><circle class="c0" cx="1064.9" cy="767.3" r="4.05"/><circle class="c0" cx="1072.7" cy="764.9" r="4.05"/><circle class="c0" cx="1084.1" cy="757.6" r="4.05"/><circle class="c0" cx="1089.3" cy="763.6" r="4.05"/><circle class="c0" cx="1092.4" cy="766.7" r="4.05"/><circle class="c0" cx="1095.8" cy="752.7" r="4.05"/><circle class="c0" cx="1107.4" cy="763.8" r="4.05"/><circle class="c0" cx="1082.3" cy="771.9" r="4.05"/><circle class="c0" cx="1096.5" cy="783" r="4.05"/><circle class="c0" cx="1109" cy="780.7" r="4.05"/><circle class="c0" cx="1072.1" cy="787.7" r="4.05"/><circle class="c0" cx="1089.8" cy="789.2" r="4.05"/><circle class="c0" cx="1087.2" cy="796.8" r="4.05"/><circle class="c0" cx="1082.5" cy="799.9" r="4.05"/><circle class="c0" cx="1059.2" cy="801.5" r="4.05"/><circle class="c0" cx="1059.7" cy="808.2" r="4.05"/><circle class="c0" cx="1071.1" cy="707.1" r="4.05"/><circle class="c0" cx="1071.6" cy="714.9" r="4.05"/><circle class="c0" cx="1075.8" cy="715.9" r="4.05"/><circle class="c0" cx="1076.8" cy="721.1" r="4.05"/><circle class="c0" cx="1078.4" cy="744.4" r="4.05"/><circle class="c0" cx="1087.2" cy="719" r="4.05"/><circle class="c0" cx="1089.3" cy="714.9" r="4.05"/><circle class="c0" cx="1093.9" cy="710.2" r="4.05"/><circle class="c0" cx="1106.9" cy="707.1" r="4.05"/><circle class="c0" cx="1109.5" cy="708.7" r="4.05"/><circle class="c0" cx="1076.8" cy="732.5" r="4.05"/><circle class="c1" cx="1154.3" cy="714.2" r="4.05"/><circle class="c1" cx="1169.6" cy="714.7" r="4.05"/><circle class="c1" cx="1180" cy="713.7" r="4.05"/><circle class="c1" cx="1193.5" cy="715" r="4.05"/><circle class="c1" cx="1199" cy="713.6" r="4.05"/><circle class="c1" cx="1208.1" cy="713.7" r="4.05"/><circle class="c1" cx="1214.8" cy="714.1" r="4.05"/><circle class="c1" cx="1151.5" cy="720" r="4.05"/><circle class="c1" cx="1157.7" cy="717.9" r="4.05"/><circle class="c1" cx="1166.2" cy="720.2" r="4.05"/><circle class="c1" cx="1175.1" cy="718.1" r="4.05"/><circle class="c1" cx="1182.2" cy="717.2" r="4.05"/><circle class="c1" cx="1187.1" cy="721.1" r="4.05"/><circle class="c1" cx="1196.8" cy="719.7" r="4.05"/><circle class="c1" cx="1201.7" cy="718.1" r="4.05"/><circle class="c1" cx="1208.9" cy="718.8" r="4.05"/><circle class="c1" cx="1192.3" cy="724.7" r="4.05"/><circle class="c1" cx="1198.3" cy="723.5" r="4.05"/><circle class="c0" cx="1228.6" cy="704.7" r="4.05"/><circle class="c0" cx="1238" cy="705.5" r="4.05"/><circle class="c0" cx="1228.2" cy="711.4" r="4.05"/><circle class="c0" cx="1234.3" cy="711.8" r="4.05"/><circle class="c0" cx="1223.7" cy="715.7" r="4.05"/><circle class="c0" cx="1230.9" cy="718.7" r="4.05"/><circle class="c5" cx="1171" cy="708.7" r="4.05"/><circle class="c5" cx="1117.4" cy="717.9" r="4.05"/><circle class="c5" cx="1124.9" cy="718.3" r="4.05"/><circle class="c9" cx="1124.5" cy="700.9" r="4.05"/><circle class="c9" cx="1130.2" cy="700.9" r="4.05"/><circle class="c9" cx="1184.1" cy="695.7" r="4.05"/><circle class="c9" cx="1193.5" cy="695.7" r="4.05"/><circle class="c9" cx="1206.4" cy="694.1" r="4.05"/><circle class="c9" cx="1221" cy="701.4" r="4.05"/><circle class="c9" cx="1115.2" cy="703.5" r="4.05"/><circle class="c9" cx="1226.1" cy="692.1" r="4.05"/><circle class="c8" cx="1159.3" cy="695.2" r="4.05"/><circle class="c8" cx="1157.7" cy="699.3" r="4.05"/><circle class="c8" cx="1134.9" cy="703" r="4.05"/><circle class="c8" cx="1141.1" cy="701.4" r="4.05"/><circle class="c8" cx="1179" cy="696.7" r="4.05"/><circle class="c8" cx="1214.2" cy="701.4" r="4.05"/><circle class="c8" cx="1184.7" cy="700.4" r="4.05"/><circle class="c7" cx="1154.6" cy="703.5" r="4.05"/><circle class="c7" cx="1189.9" cy="700.4" r="4.05"/><circle class="c7" cx="1193" cy="705" r="4.05"/><circle class="c7" cx="1208" cy="702.4" r="4.05"/><circle class="c7" cx="1170.1" cy="702.4" r="4.05"/><circle class="c7" cx="1201.3" cy="704.5" r="4.05"/><circle class="c4" cx="1176.9" cy="711.5" r="4.05"/><circle class="c4" cx="1182.1" cy="704.5" r="4.05"/><circle class="c4" cx="1145.3" cy="718.5" r="4.05"/><circle class="c4" cx="1155.6" cy="719" r="4.05"/><circle class="c4" cx="1110" cy="718.5" r="4.05"/><circle class="c6" cx="1117.3" cy="700.9" r="4.05"/><circle class="c6" cx="1150.4" cy="706.6" r="4.05"/><circle class="c6" cx="1128.1" cy="712.3" r="4.05"/><circle class="c6" cx="1142.7" cy="712.3" r="4.05"/><circle class="c6" cx="1186.7" cy="706.6" r="4.05"/><circle class="c6" cx="1122.4" cy="713.3" r="4.05"/><circle class="c5" cx="1142.1" cy="706.1" r="4.05"/><circle class="c5" cx="1159.3" cy="704.5" r="4.05"/><circle class="c5" cx="1166.5" cy="709.7" r="4.05"/><circle class="c5" cx="1171.2" cy="708.1" r="4.05"/><circle class="c5" cx="1113.1" cy="718.5" r="4.05"/><circle class="c5" cx="1119.3" cy="718.5" r="4.05"/><circle class="c5" cx="1129.7" cy="715.9" r="4.05"/><circle class="c5" cx="1135.9" cy="715.4" r="4.05"/><circle class="c5" cx="1116.2" cy="721.1" r="4.05"/><circle class="c5" cx="1123.5" cy="718" r="4.05"/><circle class="c3" cx="1140.3" cy="727.3" r="4.05"/><circle class="c3" cx="1224.6" cy="731.8" r="4.05"/><circle class="c3" cx="1238.6" cy="694.7" r="4.05"/><circle class="c0" cx="1112.1" cy="709.2" r="4.05"/><circle class="c0" cx="1118.3" cy="710.2" r="4.05"/><circle class="c0" cx="1122.4" cy="705.6" r="4.05"/><circle class="c0" cx="1135.9" cy="709.2" r="4.05"/><circle class="c0" cx="1147.5" cy="703.2" r="4.05"/><circle class="c0" cx="1172.7" cy="700.6" r="4.05"/><circle class="c0" cx="1148.9" cy="713.3" r="4.05"/><circle class="c0" cx="1118.1" cy="726.6" r="4.05"/><circle class="c0" cx="1127.8" cy="725.3" r="4.05"/><circle class="c0" cx="1143.2" cy="728.2" r="4.05"/><circle class="c0" cx="1160.8" cy="727.9" r="4.05"/><circle class="c0" cx="1153.9" cy="733.8" r="4.05"/><circle class="c0" cx="1166" cy="738.2" r="4.05"/><circle class="c0" cx="1163.4" cy="741.3" r="4.05"/><circle class="c0" cx="1160.8" cy="745" r="4.05"/><circle class="c0" cx="1195" cy="737.7" r="4.05"/><circle class="c0" cx="1198.1" cy="732.5" r="4.05"/><circle class="c0" cx="1197.6" cy="727.9" r="4.05"/><circle class="c0" cx="1206.4" cy="732.5" r="4.05"/><circle class="c0" cx="1211.1" cy="724.2" r="4.05"/><circle class="c0" cx="1217.3" cy="722.1" r="4.05"/><circle class="c0" cx="1224.6" cy="714.9" r="4.05"/><circle class="c0" cx="1229.3" cy="715.9" r="4.05"/><circle class="c0" cx="1230.8" cy="719" r="4.05"/><circle class="c0" cx="1235.5" cy="713.3" r="4.05"/><circle class="c0" cx="1232.4" cy="709.2" r="4.05"/><circle class="c0" cx="1229.3" cy="706.6" r="4.05"/><circle class="c0" cx="1224.1" cy="707.1" r="4.05"/><circle class="c0" cx="1236" cy="704.5" r="4.05"/><circle class="c0" cx="1240.1" cy="699.3" r="4.05"/><circle class="c0" cx="1134.4" cy="756.9" r="4.05"/><circle class="c0" cx="1174.8" cy="755.3" r="4.05"/><circle class="c0" cx="1156.1" cy="762.1" r="4.05"/><circle class="c0" cx="1116.7" cy="776.3" r="4.05"/><circle class="c0" cx="1111" cy="780.7" r="4.05"/><circle class="c0" cx="1117.3" cy="784.4" r="4.05"/><circle class="c0" cx="1124.5" cy="782.3" r="4.05"/><circle class="c0" cx="1127.1" cy="784.9" r="4.05"/><circle class="c0" cx="1137.5" cy="787" r="4.05"/><circle class="c0" cx="1189.6" cy="799.6" r="4.05"/><circle class="c0" cx="1110" cy="763.6" r="4.05"/><circle class="c0" cx="1238.1" cy="708.7" r="4.05"/><circle class="c1" cx="1128.1" cy="732.5" r="4.05"/><circle class="c1" cx="1151.5" cy="722.7" r="4.05"/><circle class="c1" cx="1158.7" cy="720.1" r="4.05"/><circle class="c1" cx="1155.6" cy="712.3" r="4.05"/><circle class="c1" cx="1159.8" cy="711.8" r="4.05"/><circle class="c1" cx="1147.3" cy="717.5" r="4.05"/><circle class="c1" cx="1166" cy="722.1" r="4.05"/><circle class="c1" cx="1168.1" cy="717.5" r="4.05"/><circle class="c1" cx="1171.2" cy="714.9" r="4.05"/><circle class="c1" cx="1177.4" cy="719.6" r="4.05"/><circle class="c1" cx="1189.9" cy="714.4" r="4.05"/><circle class="c1" cx="1185.7" cy="724.2" r="4.05"/><circle class="c1" cx="1193" cy="724.2" r="4.05"/><circle class="c1" cx="1200.2" cy="713.3" r="4.05"/><circle class="c1" cx="1207" cy="708.7" r="4.05"/><circle class="c1" cx="1208" cy="714.4" r="4.05"/><circle class="c1" cx="1212.1" cy="717.5" r="4.05"/><circle class="c1" cx="1207.5" cy="721.1" r="4.05"/><circle class="c1" cx="1213.7" cy="719.6" r="4.05"/><circle class="c1" cx="1221.5" cy="713.3" r="4.05"/><circle class="c1" cx="1221.5" cy="717.5" r="4.05"/><circle class="c1" cx="1199.2" cy="701.4" r="4.05"/><circle class="c1" cx="1207" cy="697.8" r="4.05"/><circle class="c1" cx="1212.1" cy="696.2" r="4.05"/><circle class="c1" cx="1217.9" cy="695.7" r="4.05"/><circle class="c1" cx="1223" cy="696.7" r="4.05"/><circle class="c1" cx="1217.9" cy="731" r="4.05"/><circle class="c1" cx="1205.4" cy="728.9" r="4.05"/><circle class="c1" cx="1120.4" cy="762.6" r="4.05"/><circle class="c1" cx="1123" cy="760" r="4.05"/><circle class="c1" cx="1170.1" cy="756.9" r="4.05"/><circle class="c1" cx="1202.1" cy="756.1" r="4.05"/><circle class="c1" cx="1168.1" cy="771.4" r="4.05"/><circle class="c1" cx="1136.1" cy="779" r="4.05"/><circle class="c1" cx="1124.5" cy="787.5" r="4.05"/><circle class="c1" cx="1133.3" cy="789" r="4.05"/><circle class="c2" cx="1138.7" cy="740.3" r="4.05"/><circle class="c2" cx="1155.6" cy="727.3" r="4.05"/><circle class="c2" cx="1212.7" cy="733" r="4.05"/><circle class="c2" cx="1144.7" cy="763.9" r="4.05"/><circle class="c2" cx="1157.9" cy="766.5" r="4.05"/><circle class="c2" cx="1158.2" cy="778.1" r="4.05"/><circle class="c2" cx="1227.2" cy="699.3" r="4.05"/><circle class="c2" cx="1232.9" cy="697.8" r="4.05"/><circle class="c2" cx="1230.3" cy="695.2" r="4.05"/><circle class="c9" cx="1221" cy="701.6" r="4.05"/><circle class="c7" cx="1208" cy="702.4" r="4.05"/><circle class="c7" cx="1201.3" cy="704.5" r="4.05"/><circle class="c8" cx="1214.2" cy="701.4" r="4.05"/><circle class="c4" cx="894.3" cy="817.3" r="4.05"/><circle class="c4" cx="906.7" cy="815.7" r="4.05"/><circle class="c4" cx="887" cy="829.7" r="4.05"/><circle class="c4" cx="893.3" cy="831.8" r="4.05"/><circle class="c4" cx="914" cy="841.4" r="4.05"/><circle class="c4" cx="958.1" cy="838" r="4.05"/><circle class="c4" cx="968.4" cy="848.4" r="4.05"/><circle class="c4" cx="883.9" cy="857.2" r="4.05"/><circle class="c4" cx="924.4" cy="855.1" r="4.05"/><circle class="c4" cx="953.2" cy="857.9" r="4.05"/><circle class="c4" cx="895.3" cy="861.3" r="4.05"/><circle class="c4" cx="891.2" cy="868.1" r="4.05"/><circle class="c4" cx="895.9" cy="866.5" r="4.05"/><circle class="c4" cx="932.5" cy="869.6" r="4.05"/><circle class="c4" cx="919.7" cy="877.2" r="4.05"/><circle class="c4" cx="883.9" cy="881.6" r="4.05"/><circle class="c4" cx="897.9" cy="891.6" r="4.05"/><circle class="c4" cx="907.8" cy="893" r="4.05"/><circle class="c4" cx="888.1" cy="887.8" r="4.05"/><circle class="c5" cx="944.6" cy="819.1" r="4.05"/><circle class="c0" cx="852.3" cy="811.6" r="4.05"/><circle class="c0" cx="855.4" cy="824" r="4.05"/><circle class="c0" cx="929" cy="819.1" r="4.05"/><circle class="c0" cx="960.7" cy="823.8" r="4.05"/><circle class="c0" cx="905.7" cy="830.2" r="4.05"/><circle class="c0" cx="887.6" cy="843.7" r="4.05"/><circle class="c0" cx="886.5" cy="855.1" r="4.05"/><circle class="c0" cx="891" cy="860.1" r="4.05"/><circle class="c0" cx="871.3" cy="875.6" r="4.05"/><circle class="c0" cx="963.6" cy="867.3" r="4.05"/><circle class="c0" cx="957" cy="872.2" r="4.05"/><circle class="c1" cx="846.6" cy="812.1" r="4.05"/><circle class="c1" cx="847.1" cy="819.3" r="4.05"/><circle class="c1" cx="870.4" cy="815.2" r="4.05"/><circle class="c1" cx="859" cy="818.8" r="4.05"/><circle class="c1" cx="863.2" cy="819.3" r="4.05"/><circle class="c1" cx="889.6" cy="817.8" r="4.05"/><circle class="c1" cx="849" cy="830.7" r="4.05"/><circle class="c1" cx="862.1" cy="829.7" r="4.05"/><circle class="c1" cx="866.3" cy="831.3" r="4.05"/><circle class="c1" cx="871" cy="832.8" r="4.05"/><circle class="c1" cx="844.5" cy="838" r="4.05"/><circle class="c1" cx="859.9" cy="838.5" r="4.05"/><circle class="c1" cx="854.4" cy="858.2" r="4.05"/><circle class="c1" cx="879.8" cy="829.2" r="4.05"/><circle class="c1" cx="954.4" cy="816.2" r="4.05"/><circle class="c1" cx="941.5" cy="827.1" r="4.05"/><circle class="c1" cx="960.7" cy="830.2" r="4.05"/><circle class="c1" cx="955.5" cy="843.7" r="4.05"/><circle class="c1" cx="962.2" cy="844.7" r="4.05"/><circle class="c1" cx="903.4" cy="863.7" r="4.05"/><circle class="c1" cx="924.2" cy="863.7" r="4.05"/><circle class="c1" cx="906.7" cy="855.6" r="4.05"/><circle class="c1" cx="902.6" cy="872.7" r="4.05"/><circle class="c1" cx="909.1" cy="871.2" r="4.05"/><circle class="c1" cx="941.5" cy="871.2" r="4.05"/><circle class="c1" cx="891.7" cy="876.9" r="4.05"/><circle class="c1" cx="883.4" cy="877.4" r="4.05"/><circle class="c1" cx="915" cy="880.5" r="4.05"/><circle class="c1" cx="856.1" cy="882.9" r="4.05"/><circle class="c1" cx="879.3" cy="882.6" r="4.05"/><circle class="c1" cx="891.7" cy="886.7" r="4.05"/><circle class="c1" cx="884.4" cy="889.9" r="4.05"/><circle class="c1" cx="882.4" cy="895" r="4.05"/><circle class="c1" cx="869.9" cy="896.6" r="4.05"/><circle class="c1" cx="858.5" cy="903.3" r="4.05"/><circle class="c1" cx="865.8" cy="906.4" r="4.05"/><circle class="c1" cx="868.9" cy="906.4" r="4.05"/><circle class="c1" cx="866.1" cy="913.2" r="4.05"/><circle class="c1" cx="923.3" cy="885.7" r="4.05"/><circle class="c1" cx="928" cy="889.3" r="4.05"/><circle class="c1" cx="936.8" cy="894.5" r="4.05"/><circle class="c1" cx="939.4" cy="899.7" r="4.05"/><circle class="c1" cx="949.1" cy="900.7" r="4.05"/><circle class="c1" cx="961.5" cy="895.9" r="4.05"/><circle class="c1" cx="960.1" cy="885.7" r="4.05"/><circle class="c1" cx="965.9" cy="878.4" r="4.05"/><circle class="c1" cx="961.7" cy="871.2" r="4.05"/><circle class="c1" cx="924.1" cy="924.4" r="4.05"/><circle class="c1" cx="901" cy="826.6" r="4.05"/><circle class="c1" cx="946.1" cy="853.6" r="4.05"/><circle class="c3" cx="877.7" cy="826.1" r="4.05"/><circle class="c3" cx="903.6" cy="823.5" r="4.05"/><circle class="c3" cx="915" cy="811.6" r="4.05"/><circle class="c3" cx="927.5" cy="822.4" r="4.05"/><circle class="c3" cx="933.7" cy="811.6" r="4.05"/><circle class="c3" cx="891.7" cy="840.6" r="4.05"/><circle class="c3" cx="895.9" cy="844.2" r="4.05"/><circle class="c3" cx="897.4" cy="848.9" r="4.05"/><circle class="c3" cx="902.6" cy="848.9" r="4.05"/><circle class="c3" cx="939.7" cy="838.8" r="4.05"/><circle class="c3" cx="912.4" cy="857.5" r="4.05"/><circle class="c3" cx="883.9" cy="866.5" r="4.05"/><circle class="c3" cx="914.5" cy="865.5" r="4.05"/><circle class="c3" cx="918.7" cy="868.6" r="4.05"/><circle class="c3" cx="955.5" cy="865.5" r="4.05"/><circle class="c3" cx="896.4" cy="876.4" r="4.05"/><circle class="c3" cx="880.8" cy="883.1" r="4.05"/><circle class="c3" cx="906.2" cy="885.7" r="4.05"/><circle class="c3" cx="897.4" cy="895.6" r="4.05"/><circle class="c3" cx="887.6" cy="899.7" r="4.05"/><circle class="c3" cx="893.3" cy="902.3" r="4.05"/><circle class="c3" cx="929.6" cy="811.6" r="4.05"/><circle class="c2" cx="889.6" cy="810.5" r="4.05"/><circle class="c2" cx="899" cy="811.6" r="4.05"/><circle class="c2" cx="919.7" cy="817.3" r="4.05"/><circle class="c2" cx="911.9" cy="821.4" r="4.05"/><circle class="c2" cx="908.8" cy="827.1" r="4.05"/><circle class="c2" cx="881.9" cy="831.3" r="4.05"/><circle class="c2" cx="902.1" cy="835.9" r="4.05"/><circle class="c2" cx="911.4" cy="835.9" r="4.05"/><circle class="c2" cx="868.7" cy="842.7" r="4.05"/><circle class="c2" cx="907.8" cy="843.7" r="4.05"/><circle class="c2" cx="919.2" cy="839" r="4.05"/><circle class="c2" cx="920.7" cy="844.7" r="4.05"/><circle class="c2" cx="928" cy="837" r="4.05"/><circle class="c2" cx="928.5" cy="843.7" r="4.05"/><circle class="c2" cx="939.4" cy="819.3" r="4.05"/><circle class="c2" cx="935.8" cy="830.7" r="4.05"/><circle class="c2" cx="947.2" cy="839.6" r="4.05"/><circle class="c2" cx="956.5" cy="827.6" r="4.05"/><circle class="c2" cx="966.9" cy="814.1" r="4.05"/><circle class="c2" cx="969" cy="843.7" r="4.05"/><circle class="c2" cx="964.3" cy="854.1" r="4.05"/><circle class="c2" cx="932.7" cy="851.5" r="4.05"/><circle class="c2" cx="936.8" cy="849.4" r="4.05"/><circle class="c2" cx="942" cy="849.9" r="4.05"/><circle class="c2" cx="945.6" cy="847.9" r="4.05"/><circle class="c2" cx="943" cy="854.6" r="4.05"/><circle class="c2" cx="942" cy="859.8" r="4.05"/><circle class="c2" cx="936.8" cy="862.4" r="4.05"/><circle class="c2" cx="931.6" cy="860.8" r="4.05"/><circle class="c2" cx="908.8" cy="857.7" r="4.05"/><circle class="c2" cx="918.7" cy="861.3" r="4.05"/><circle class="c2" cx="908.5" cy="879.3" r="4.05"/><circle class="c2" cx="910.9" cy="887.8" r="4.05"/><circle class="c2" cx="914.5" cy="897.6" r="4.05"/><circle class="c2" cx="931.6" cy="901.8" r="4.05"/><circle class="c2" cx="932.7" cy="874.3" r="4.05"/><circle class="c2" cx="935.8" cy="877.4" r="4.05"/><circle class="c2" cx="931.1" cy="880.5" r="4.05"/><circle class="c2" cx="929.6" cy="883.6" r="4.05"/><circle class="c2" cx="934.7" cy="886.7" r="4.05"/><circle class="c4" cx="1000.9" cy="835.4" r="4.05"/><circle class="c4" cx="980.1" cy="846.6" r="4.05"/><circle class="c4" cx="970" cy="849.4" r="4.05"/><circle class="c3" cx="1009.4" cy="846.5" r="4.05"/><circle class="c5" cx="974.9" cy="816.2" r="4.05"/><circle class="c0" cx="1093.9" cy="818.8" r="4.05"/><circle class="c0" cx="977.3" cy="835.2" r="4.05"/><circle class="c0" cx="1038.4" cy="842.5" r="4.05"/><circle class="c0" cx="1020.8" cy="847" r="4.05"/><circle class="c0" cx="1013.9" cy="861.1" r="4.05"/><circle class="c0" cx="979.3" cy="866" r="4.05"/><circle class="c0" cx="983.5" cy="877.4" r="4.05"/><circle class="c1" cx="973.6" cy="811.6" r="4.05"/><circle class="c1" cx="981.2" cy="815.4" r="4.05"/><circle class="c1" cx="1001.4" cy="814.1" r="4.05"/><circle class="c1" cx="998" cy="822.4" r="4.05"/><circle class="c1" cx="1003.2" cy="823" r="4.05"/><circle class="c1" cx="1001.6" cy="830.7" r="4.05"/><circle class="c1" cx="1000.1" cy="837" r="4.05"/><circle class="c1" cx="983.8" cy="839.6" r="4.05"/><circle class="c1" cx="988.7" cy="843.2" r="4.05"/><circle class="c1" cx="992.8" cy="844.7" r="4.05"/><circle class="c1" cx="993.3" cy="847.9" r="4.05"/><circle class="c1" cx="986.4" cy="851" r="4.05"/><circle class="c1" cx="1004" cy="851.2" r="4.05"/><circle class="c1" cx="1012.8" cy="847.3" r="4.05"/><circle class="c1" cx="1013" cy="851" r="4.05"/><circle class="c1" cx="1022.9" cy="834.9" r="4.05"/><circle class="c1" cx="1032.7" cy="831.3" r="4.05"/><circle class="c1" cx="1035.3" cy="813.1" r="4.05"/><circle class="c1" cx="1032.2" cy="816.7" r="4.05"/><circle class="c1" cx="1055" cy="814.1" r="4.05"/><circle class="c1" cx="1078.7" cy="818.5" r="4.05"/><circle class="c1" cx="1084.1" cy="825.6" r="4.05"/><circle class="c1" cx="1079.9" cy="829.5" r="4.05"/><circle class="c1" cx="1072.7" cy="834.2" r="4.05"/><circle class="c1" cx="1059.9" cy="829.4" r="4.05"/><circle class="c1" cx="1045.7" cy="834.2" r="4.05"/><circle class="c1" cx="1040.5" cy="838" r="4.05"/><circle class="c1" cx="1055" cy="841.6" r="4.05"/><circle class="c1" cx="1059.2" cy="846.3" r="4.05"/><circle class="c1" cx="1062.8" cy="841.1" r="4.05"/><circle class="c1" cx="1034.3" cy="852" r="4.05"/><circle class="c1" cx="1030.1" cy="853.8" r="4.05"/><circle class="c1" cx="980.9" cy="861.5" r="4.05"/><circle class="c1" cx="1006.3" cy="868.8" r="4.05"/><circle class="c1" cx="1015.1" cy="871.9" r="4.05"/><circle class="c1" cx="996.4" cy="877.9" r="4.05"/><circle class="c1" cx="999" cy="881" r="4.05"/><circle class="c1" cx="993.9" cy="885" r="4.05"/><circle class="c2" cx="972.6" cy="822.4" r="4.05"/><circle class="c2" cx="1016.4" cy="822.4" r="4.05"/><circle class="c2" cx="1047.3" cy="843.9" r="4.05"/><circle class="c2" cx="1066.2" cy="849.7" r="4.05"/><circle class="c2" cx="1094.8" cy="844" r="4.05"/><circle class="c2" cx="980.9" cy="875.9" r="4.05"/><circle class="c2" cx="970" cy="844.2" r="4.05"/><circle class="c2" cx="1124.2" cy="847.1" r="4.05"/><circle class="c1" cx="947.8" cy="953" r="4.05"/><circle class="c1" cx="985.1" cy="955.8" r="4.05"/></g>
<text class="t" x="805.2" y="1106.9" text-anchor="middle">-1</text>
<text class="t" x="796.1" y="1081.3" text-anchor="end">-1</text>
<text class="t" x="916" y="1106.9" text-anchor="middle">-0.5</text>
<text class="t" x="796.1" y="986.8" text-anchor="end">-0.5</text>
<text class="t" x="1026.7" y="1106.9" text-anchor="middle">0</text>
<text class="t" x="796.1" y="892.2" text-anchor="end">0</text>
<text class="t" x="1137.5" y="1106.9" text-anchor="middle">0.5</text>
<text class="t" x="796.1" y="797.6" text-anchor="end">0.5</text>
<text class="t" x="1248.2" y="1106.9" text-anchor="middle">1</text>
<text class="t" x="796.1" y="703.1" text-anchor="end">1</text>
<text class="l" x="1026.7" y="1143.9" text-anchor="middle">Correlation between Iage and B-A age</text>
<text class="l" transform="translate(735.2 883.1) rotate(-90)" text-anchor="middle">Correlaiton between Iage and BwP age</text>
<text class="g" x="816.4" y="722.5">(d)</text>
<rect class="c0" x="1266.4" y="1033.5" width="19.2" height="38.1"/>
<rect class="c1" x="1266.4" y="995.7" width="19.2" height="38.1"/>
<rect class="c2" x="1266.4" y="957.8" width="19.2" height="38.1"/>
<rect class="c3" x="1266.4" y="920" width="19.2" height="38.1"/>
<rect class="c4" x="1266.4" y="882.2" width="19.2" height="38.1"/>
<rect class="c5" x="1266.4" y="844.4" width="19.2" height="38.1"/>
<rect class="c6" x="1266.4" y="806.6" width="19.2" height="38.1"/>
<rect class="c7" x="1266.4" y="768.7" width="19.2" height="38.1"/>
<rect class="c8" x="1266.4" y="730.9" width="19.2" height="38.1"/>
<rect class="c9" x="1266.4" y="693.1" width="19.2" height="38.1"/>
<rect x="1266.4" y="693.1" width="19.2" height="378.2" fill="none" stroke="#262626" stroke-width="0.8" stroke-opacity="0.75"/>
<text class="t" x="1292.3" y="1081.7" textLength="58.7" lengthAdjust="spacingAndGlyphs">1000</text>
<text class="t" x="1292.3" y="1006.1" textLength="58.7" lengthAdjust="spacingAndGlyphs">1800</text>
<path d="M1285.6 995.7h-3.4" stroke="#262626" stroke-width="0.8"/>
<text class="t" x="1292.3" y="930.4" textLength="58.7" lengthAdjust="spacingAndGlyphs">2600</text>
<path d="M1285.6 920h-3.4" stroke="#262626" stroke-width="0.8"/>
<text class="t" x="1292.3" y="854.8" textLength="58.7" lengthAdjust="spacingAndGlyphs">3400</text>
<path d="M1285.6 844.4h-3.4" stroke="#262626" stroke-width="0.8"/>
<text class="t" x="1292.3" y="779.1" textLength="58.7" lengthAdjust="spacingAndGlyphs">4200</text>
<path d="M1285.6 768.7h-3.4" stroke="#262626" stroke-width="0.8"/>
<text class="t" x="1292.3" y="703.5" textLength="58.7" lengthAdjust="spacingAndGlyphs">5000</text>
<text class="m" x="1275.3" y="677.2" text-anchor="middle">(m)</text>
</g>
</svg></body></html>
